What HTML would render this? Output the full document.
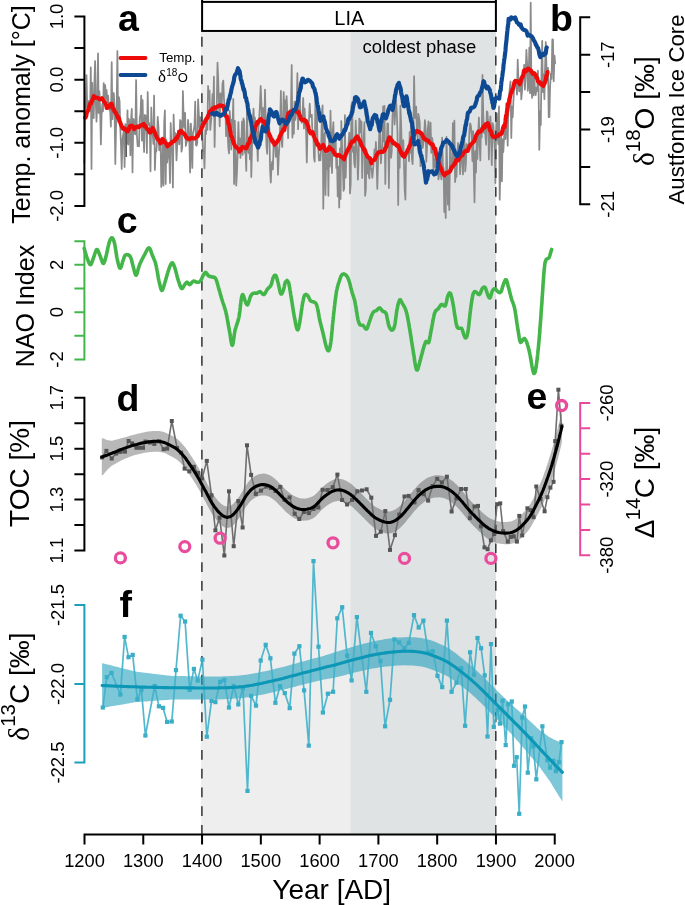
<!DOCTYPE html>
<html><head><meta charset="utf-8"><title>Figure</title>
<style>html,body{margin:0;padding:0;background:#fff}svg{display:block}text{fill:#000}</style>
</head><body>
<svg style="will-change:transform" width="685" height="905" viewBox="0 0 685 905"><rect width="685" height="905" fill="#fff"/><rect x="200.9" y="31" width="149.3" height="803" fill="#eeeeee"/><rect x="350.2" y="31" width="145.8" height="803" fill="#dfe3e4"/><polyline points="84.3,163.6 85.0,121.7 85.7,101.8 86.5,75.2 87.2,106.9 87.9,105.9 88.6,101.0 89.3,110.2 90.1,111.1 90.8,67.4 91.5,169.0 92.2,82.9 92.9,117.6 93.7,118.0 94.4,82.3 95.1,61.0 95.8,103.2 96.5,121.6 97.3,101.7 98.0,53.4 98.7,113.0 99.4,91.3 100.1,107.6 100.9,144.4 101.6,114.5 102.3,104.0 103.0,111.3 103.7,83.1 104.5,97.1 105.2,85.0 105.9,99.1 106.6,90.0 107.3,102.2 108.1,95.7 108.8,107.1 109.5,109.1 110.2,111.2 110.9,126.6 111.7,62.2 112.4,119.1 113.1,107.5 113.8,93.0 114.5,106.9 115.3,164.0 116.0,129.9 116.7,103.7 117.4,51.0 118.1,121.6 118.9,97.2 119.6,101.4 120.3,128.0 121.0,146.0 121.7,169.0 122.5,138.8 123.2,134.4 123.9,130.8 124.6,167.0 125.3,124.1 126.1,126.0 126.8,143.3 127.5,110.3 128.2,144.6 128.9,119.0 129.7,124.1 130.4,155.2 131.1,118.7 131.8,108.8 132.5,172.4 133.3,118.8 134.0,120.2 134.7,133.5 135.4,134.4 136.1,80.0 136.9,134.6 137.6,146.2 138.3,143.1 139.0,146.4 139.7,118.5 140.5,113.5 141.2,95.6 141.9,140.5 142.6,100.1 143.3,132.8 144.1,152.0 144.8,115.0 145.5,115.5 146.2,119.3 146.9,153.0 147.7,92.0 148.4,124.9 149.1,123.0 149.8,127.2 150.5,171.3 151.3,107.5 152.0,129.6 152.7,134.1 153.4,144.0 154.1,95.5 154.9,170.0 155.6,150.6 156.3,151.5 157.0,141.6 157.7,116.8 158.5,127.5 159.2,150.3 159.9,144.0 160.6,141.8 161.3,187.0 162.1,179.0 162.8,144.1 163.5,185.6 164.2,122.0 164.9,110.4 165.7,184.0 166.4,139.5 167.1,162.7 167.8,155.9 168.5,145.7 169.3,154.4 170.0,183.0 170.7,123.0 171.4,146.6 172.1,148.6 172.9,187.5 173.6,114.5 174.3,136.4 175.0,132.9 175.7,133.6 176.5,160.4 177.2,145.7 177.9,130.6 178.6,136.0 179.3,144.4 180.1,120.0 180.8,121.1 181.5,151.7 182.2,147.4 182.9,91.0 183.7,119.4 184.4,127.8 185.1,112.8 185.8,145.9 186.5,142.9 187.3,140.0 188.0,119.9 188.7,125.5 189.4,143.9 190.1,172.5 190.9,123.6 191.6,143.1 192.3,167.9 193.0,133.0 193.7,130.1 194.5,125.5 195.2,101.6 195.9,144.7 196.6,145.7 197.3,142.3 198.1,99.4 198.8,113.5 199.5,128.1 200.2,117.2 200.9,128.8 201.7,117.8 202.4,133.9 203.1,151.3 203.8,149.3 204.5,168.4 205.3,130.2 206.0,134.2 206.7,115.5 207.4,129.8 208.1,86.0 208.9,98.8 209.6,90.7 210.3,129.9 211.0,121.7 211.7,114.2 212.5,94.1 213.2,110.9 213.9,76.7 214.6,146.9 215.3,109.0 216.1,113.3 216.8,104.5 217.5,62.6 218.2,79.8 218.9,101.8 219.7,126.3 220.4,93.4 221.1,94.8 221.8,104.6 222.5,83.5 223.3,80.6 224.0,99.3 224.7,109.2 225.4,107.7 226.1,136.2 226.9,118.6 227.6,131.6 228.3,147.3 229.0,153.5 229.7,110.8 230.5,123.8 231.2,149.5 231.9,119.7 232.6,123.7 233.3,99.0 234.1,184.0 234.8,120.7 235.5,146.9 236.2,185.6 236.9,174.3 237.7,152.2 238.4,122.1 239.1,145.2 239.8,138.4 240.5,157.9 241.3,147.3 242.0,121.5 242.7,154.8 243.4,118.4 244.1,121.0 244.9,152.8 245.6,153.2 246.3,170.8 247.0,102.6 247.7,145.0 248.5,153.0 249.2,138.5 249.9,159.3 250.6,125.8 251.3,177.0 252.1,143.5 252.8,120.6 253.5,108.7 254.2,123.4 254.9,117.6 255.7,139.0 256.4,128.9 257.1,142.1 257.8,160.9 258.5,127.9 259.3,117.1 260.0,103.8 260.7,86.0 261.4,104.2 262.1,126.9 262.9,107.8 263.6,119.0 264.3,126.8 265.0,89.6 265.7,121.1 266.5,146.1 267.2,153.8 267.9,122.9 268.6,124.8 269.3,127.2 270.1,170.0 270.8,182.6 271.5,166.4 272.2,161.6 272.9,169.5 273.7,140.9 274.4,141.5 275.1,143.6 275.8,156.9 276.5,140.8 277.3,149.4 278.0,174.8 278.7,157.4 279.4,146.5 280.1,126.7 280.9,90.8 281.6,141.5 282.3,147.0 283.0,119.2 283.7,92.0 284.5,119.2 285.2,100.4 285.9,122.6 286.6,96.2 287.3,110.7 288.1,138.1 288.8,116.8 289.5,122.1 290.2,120.6 290.9,114.3 291.7,65.0 292.4,137.6 293.1,112.2 293.8,133.8 294.5,101.6 295.3,120.0 296.0,115.1 296.7,101.9 297.4,73.2 298.1,129.2 298.9,100.4 299.6,83.7 300.3,114.0 301.0,118.8 301.7,122.9 302.5,116.2 303.2,98.0 303.9,128.6 304.6,108.5 305.3,122.8 306.1,131.2 306.8,162.4 307.5,128.8 308.2,123.9 308.9,121.6 309.7,103.7 310.4,117.0 311.1,116.3 311.8,114.9 312.5,136.8 313.3,131.2 314.0,157.9 314.7,161.7 315.4,95.2 316.1,134.3 316.9,110.4 317.6,147.0 318.3,148.2 319.0,160.6 319.7,155.1 320.5,160.3 321.2,145.8 321.9,112.3 322.6,105.3 323.3,208.7 324.1,137.9 324.8,132.6 325.5,194.9 326.2,154.5 326.9,169.2 327.7,148.1 328.4,195.8 329.1,140.4 329.8,166.5 330.5,110.6 331.3,150.4 332.0,173.0 332.7,131.9 333.4,122.2 334.1,155.9 334.9,148.3 335.6,134.2 336.3,167.9 337.0,158.8 337.7,196.4 338.5,166.9 339.2,207.5 339.9,148.4 340.6,199.0 341.3,121.0 342.1,145.9 342.8,164.8 343.5,190.8 344.2,188.5 344.9,115.2 345.7,177.6 346.4,154.1 347.1,151.6 347.8,149.5 348.5,144.8 349.3,132.6 350.0,193.5 350.7,183.7 351.4,106.0 352.1,102.2 352.9,151.8 353.6,146.9 354.3,163.6 355.0,167.3 355.7,120.7 356.5,141.3 357.2,154.0 357.9,179.6 358.6,160.8 359.3,118.7 360.1,120.4 360.8,132.6 361.5,121.5 362.2,178.1 362.9,147.8 363.7,139.0 364.4,122.3 365.1,195.8 365.8,190.0 366.5,150.3 367.3,173.3 368.0,157.0 368.7,174.5 369.4,178.4 370.1,158.5 370.9,168.0 371.6,169.4 372.3,177.8 373.0,170.7 373.7,161.6 374.5,149.4 375.2,160.0 375.9,142.0 376.6,162.4 377.3,188.8 378.1,161.5 378.8,146.6 379.5,126.0 380.2,134.2 380.9,163.3 381.7,149.2 382.4,147.0 383.1,106.4 383.8,141.3 384.5,105.8 385.3,184.0 386.0,140.9 386.7,144.9 387.4,123.5 388.1,123.6 388.9,187.9 389.6,138.3 390.3,144.2 391.0,157.8 391.7,152.0 392.5,116.0 393.2,107.4 393.9,102.2 394.6,124.5 395.3,112.1 396.1,100.8 396.8,112.2 397.5,132.9 398.2,205.0 398.9,144.0 399.7,167.8 400.4,105.7 401.1,123.4 401.8,151.5 402.5,149.5 403.3,140.2 404.0,164.5 404.7,190.3 405.4,199.7 406.1,153.8 406.9,151.0 407.6,152.8 408.3,149.5 409.0,161.3 409.7,132.0 410.5,152.9 411.2,112.2 411.9,158.9 412.6,164.1 413.3,140.2 414.1,76.2 414.8,112.4 415.5,118.3 416.2,106.6 416.9,131.6 417.7,138.7 418.4,113.8 419.1,118.0 419.8,122.8 420.5,166.2 421.3,138.5 422.0,137.8 422.7,148.0 423.4,143.3 424.1,135.8 424.9,120.1 425.6,127.7 426.3,161.8 427.0,147.8 427.7,130.9 428.5,121.3 429.2,137.3 429.9,142.8 430.6,122.7 431.3,152.9 432.1,137.8 432.8,142.4 433.5,172.6 434.2,158.9 434.9,166.7 435.7,150.9 436.4,148.0 437.1,162.4 437.8,163.3 438.5,179.3 439.3,172.8 440.0,166.6 440.7,174.1 441.4,179.5 442.1,137.7 442.9,165.6 443.6,168.4 444.3,212.1 445.0,174.0 445.7,218.0 446.5,136.9 447.2,166.9 447.9,204.6 448.6,173.0 449.3,210.0 450.1,144.4 450.8,166.6 451.5,170.8 452.2,166.8 452.9,123.1 453.7,168.2 454.4,120.7 455.1,182.1 455.8,174.1 456.5,176.8 457.3,154.7 458.0,143.0 458.7,148.8 459.4,149.6 460.1,174.1 460.9,154.0 461.6,160.5 462.3,161.8 463.0,174.5 463.7,128.1 464.5,142.7 465.2,171.4 465.9,163.3 466.6,144.1 467.3,144.5 468.1,144.8 468.8,148.7 469.5,129.5 470.2,123.4 470.9,125.8 471.7,135.7 472.4,161.1 473.1,131.2 473.8,169.3 474.5,202.3 475.3,151.1 476.0,172.4 476.7,137.7 477.4,159.0 478.1,137.4 478.9,117.6 479.6,142.3 480.3,160.5 481.0,128.0 481.7,137.5 482.5,74.9 483.2,113.0 483.9,132.7 484.6,123.4 485.3,134.1 486.1,144.8 486.8,111.3 487.5,112.3 488.2,124.0 488.9,159.4 489.7,124.8 490.4,116.4 491.1,137.1 491.8,165.1 492.5,123.1 493.3,125.9 494.0,135.9 494.7,147.9 495.4,183.1 496.1,131.1 496.9,113.3 497.6,135.8 498.3,144.2 499.0,106.4 499.7,199.7 500.5,164.9 501.2,132.4 501.9,181.3 502.6,139.4 503.3,152.2 504.1,136.7 504.8,130.1 505.5,139.1 506.2,103.7 506.9,116.1 507.7,145.7 508.4,102.7 509.1,96.5 509.8,87.7 510.5,81.5 511.3,138.0 512.0,106.8 512.7,117.3 513.4,101.3 514.1,88.1 514.9,79.5 515.6,85.5 516.3,81.9 517.0,94.7 517.7,59.7 518.5,83.0 519.2,91.5 519.9,82.8 520.6,77.5 521.3,99.4 522.1,90.1 522.8,77.4 523.5,76.3 524.2,64.9 524.9,89.7 525.7,72.7 526.4,49.8 527.1,63.8 527.8,90.8 528.5,84.4 529.3,47.7 530.0,93.2 530.7,2.6 531.4,84.5 532.1,97.9 532.9,74.1 533.6,95.4 534.3,75.2 535.0,89.7 535.7,95.1 536.5,87.6 537.2,91.0 537.9,70.7 538.6,88.7 539.3,149.8 540.1,111.3 540.8,125.0 541.5,69.7 542.2,40.9 542.9,92.1 543.7,74.4 544.4,99.2 545.1,65.6 545.8,42.0 546.5,67.2 547.3,80.5 548.0,67.8 548.7,117.0 549.4,117.0 550.1,86.8 550.9,73.4 551.6,78.9 552.3,39.4 553.0,39.6 553.7,81.2 554.5,55.6 555.2,64.1" fill="none" stroke="#8a8a8a" stroke-width="1.75" stroke-linejoin="round"/><line x1="201.9" y1="36.85" x2="201.9" y2="834" stroke="#383838" stroke-width="1.55" stroke-dasharray="9.8 8.964"/><line x1="495.8" y1="36.85" x2="495.8" y2="834" stroke="#383838" stroke-width="1.55" stroke-dasharray="9.8 8.964"/><line x1="126.2" y1="131" x2="126.2" y2="157" stroke="#5a5a5a" stroke-width="1.6"/><rect x="202.1" y="1.9" width="293.8" height="29.05" fill="#fff" stroke="#000" stroke-width="2"/><path d="M202.1,0v2M495.9,0v2" stroke="#000" stroke-width="2"/><text x="349.3" y="24.9" font-size="20" text-anchor="middle" font-family="Liberation Sans, sans-serif">LIA</text><text x="419.3" y="52.7" font-size="18.45" text-anchor="middle" font-family="Liberation Sans, sans-serif">coldest phase</text><polyline points="85.1,117.6 85.6,117.6 86.2,116.0 86.7,113.0 87.2,112.0 87.7,110.9 88.2,109.9 88.6,108.4 89.0,107.5 89.4,106.0 89.8,104.0 90.2,104.1 90.6,103.6 91.0,103.5 91.6,101.7 92.4,99.9 93.1,98.3 93.9,96.1 94.9,97.8 96.0,97.6 97.2,97.7 98.4,98.1 99.6,99.3 100.8,98.9 101.9,98.2 102.6,98.9 103.4,100.8 104.1,101.7 104.8,102.3 105.5,103.5 106.2,105.4 106.8,108.0 107.5,107.5 108.2,107.7 109.3,106.5 110.4,104.2 111.5,103.7 112.1,104.9 112.6,107.8 113.2,109.0 113.8,109.0 114.4,111.3 115.0,112.3 115.5,112.3 116.1,113.7 116.7,115.0 117.3,116.0 117.9,117.8 118.5,117.5 119.2,119.3 119.9,121.8 120.6,123.6 121.3,125.4 122.1,126.9 122.8,128.5 123.5,127.8 124.2,129.4 124.9,128.6 125.6,129.6 126.3,129.6 127.0,131.3 127.6,131.4 128.1,129.7 128.7,129.9 129.3,127.5 129.9,126.3 130.7,126.0 131.9,125.6 133.0,126.9 134.1,129.1 135.3,127.2 136.5,127.4 137.7,126.4 138.8,127.1 139.9,126.1 141.0,125.4 142.1,124.7 143.0,124.5 143.8,124.0 144.6,126.4 145.4,126.0 146.2,127.4 147.0,129.0 147.9,129.2 148.7,130.5 149.5,132.5 150.5,132.5 151.5,130.9 152.6,128.0 153.3,128.9 153.9,130.5 154.5,132.0 155.1,133.0 155.7,135.2 156.3,136.1 156.9,137.6 157.7,139.4 158.6,139.5 159.5,140.4 160.4,143.3 161.2,142.7 161.9,140.0 162.6,138.9 163.3,139.6 164.0,141.6 164.7,142.3 165.3,142.7 166.0,143.2 166.7,145.0 167.4,146.3 168.3,145.5 169.2,144.6 170.2,143.5 171.2,143.4 172.1,141.9 173.1,141.5 174.0,141.2 174.9,140.4 175.8,138.4 176.7,138.7 177.5,136.6 178.1,135.8 178.8,134.0 179.5,131.6 180.1,131.3 180.8,130.8 181.7,131.5 182.5,132.8 183.4,133.2 184.3,133.8 185.1,135.0 186.2,137.5 187.3,138.5 188.3,138.3 189.4,139.3 190.7,138.4 191.9,137.8 193.2,138.4 194.2,138.5 195.2,138.1 196.0,137.5 196.6,137.0 197.1,136.3 197.7,136.3 198.3,134.3 198.9,133.7 199.5,132.7 200.0,131.2 200.6,130.6 201.2,129.5 201.8,127.3 202.4,127.0 203.0,124.6 203.6,123.7 204.3,122.7 204.9,122.0 205.6,120.2 206.2,119.2 206.9,118.1 207.5,117.8 208.1,115.8 208.7,114.8 209.2,113.5 209.8,111.4 210.4,112.8 211.1,111.2 212.2,108.9 213.2,109.5 214.3,107.6 215.3,107.3 216.5,107.6 217.8,106.4 219.0,105.8 220.3,105.3 221.4,106.2 222.4,105.8 223.5,106.2 224.0,108.0 224.4,110.6 224.9,112.3 225.3,114.7 225.7,115.8 226.1,116.0 226.5,116.9 226.9,116.4 227.3,117.5 227.6,118.6 227.9,120.8 228.2,123.0 228.6,123.8 228.9,124.7 229.2,125.1 229.5,126.9 229.8,128.8 230.1,130.6 230.4,131.2 230.8,134.3 231.1,136.0 231.5,136.5 231.9,136.9 232.3,137.9 232.6,139.3 233.0,140.5 233.4,142.1 234.0,143.7 234.8,145.5 235.5,146.9 236.3,147.1 237.0,148.0 237.8,148.4 238.5,148.9 239.3,151.6 240.1,149.7 240.9,150.1 241.6,148.0 242.4,146.8 243.3,147.2 244.4,147.5 245.5,148.2 246.5,148.1 247.0,146.4 247.5,145.2 248.0,143.6 248.6,143.9 249.1,142.3 249.6,142.3 250.1,138.3 250.7,137.6 251.2,137.1 251.7,135.7 252.1,135.4 252.6,134.4 253.1,132.6 253.6,131.6 254.1,132.4 254.6,130.4 255.0,128.7 255.5,126.7 256.1,125.4 256.7,123.1 257.2,122.1 257.8,123.1 258.4,122.2 259.0,120.8 259.6,119.9 260.1,119.5 260.9,119.0 261.8,120.7 262.8,121.3 263.7,121.4 264.3,123.2 264.7,121.6 265.2,122.5 265.7,124.2 266.2,124.8 266.6,126.2 267.1,127.2 267.6,128.2 268.1,132.0 268.5,133.1 269.1,133.7 269.6,135.6 270.2,136.0 270.7,137.6 271.2,138.6 271.8,140.7 272.3,140.0 272.9,141.8 273.4,142.8 274.0,142.9 274.5,144.8 275.3,142.8 276.0,143.2 276.8,142.2 277.5,141.3 278.3,139.8 279.0,139.1 279.8,136.1 280.4,135.4 281.0,133.8 281.5,133.2 282.0,132.0 282.6,131.4 283.1,129.4 283.6,129.9 284.2,130.0 284.7,127.7 285.1,125.9 285.6,124.6 286.0,124.0 286.4,123.7 286.8,120.6 287.2,118.7 287.6,116.7 288.0,115.0 288.5,113.0 289.4,113.3 290.3,111.8 291.2,112.7 292.2,112.4 293.1,110.3 294.3,109.9 295.6,110.2 296.8,112.0 297.9,111.8 298.5,111.9 299.0,113.6 299.6,115.4 300.2,116.1 300.8,118.9 301.6,119.6 302.8,120.1 304.0,119.5 304.9,120.3 305.5,121.4 306.0,120.9 306.5,123.1 307.1,123.2 307.6,125.2 308.1,125.7 308.7,129.2 309.2,130.5 309.9,132.0 310.7,133.4 311.5,132.8 312.3,132.1 313.1,133.6 314.0,136.0 314.5,137.3 315.1,139.1 315.6,140.8 316.1,140.3 316.7,141.9 317.2,144.7 317.8,144.8 318.3,144.2 318.8,145.7 319.4,147.0 319.9,148.8 321.0,147.5 322.1,147.2 323.2,144.9 324.1,147.0 325.0,149.4 326.0,151.0 326.9,150.0 328.1,150.0 329.3,147.1 330.5,148.1 331.4,149.4 332.4,149.8 333.3,151.5 334.2,152.7 335.1,154.5 336.2,155.1 337.2,155.9 338.2,154.9 339.3,155.2 340.4,156.1 341.7,157.2 342.9,157.8 344.1,159.3 344.6,157.0 345.1,155.7 345.6,154.8 346.1,153.4 346.6,152.6 347.1,150.9 347.6,150.9 348.2,149.1 348.8,148.7 349.3,147.1 349.9,146.8 350.5,143.9 351.1,143.3 351.8,141.7 352.8,141.2 353.9,141.4 354.9,139.3 356.0,137.6 357.1,136.5 357.8,138.1 358.4,138.0 359.0,140.0 359.6,140.5 360.2,141.4 360.8,143.1 361.4,145.1 362.0,146.0 362.6,147.1 363.2,148.6 363.7,149.8 364.3,149.0 364.9,150.8 365.5,152.8 366.6,154.8 367.7,157.0 368.8,157.6 369.4,158.1 369.8,158.1 370.3,159.4 370.8,161.3 371.3,163.3 372.0,161.2 372.8,160.3 373.7,159.9 374.5,160.0 375.3,158.4 376.1,156.4 376.9,154.7 377.7,153.5 378.5,152.2 379.4,152.1 380.2,151.9 381.2,151.5 382.5,152.0 383.8,151.1 384.6,150.4 385.1,148.6 385.7,147.4 386.2,147.2 386.7,145.6 387.3,142.7 387.8,141.7 388.4,140.3 388.9,138.4 389.5,137.3 390.0,137.6 390.8,140.1 391.7,140.2 392.5,141.9 393.4,143.4 394.2,142.8 395.1,143.8 396.0,144.7 396.9,145.8 397.8,145.4 398.7,146.5 399.6,148.7 400.3,150.7 401.0,152.8 401.6,152.8 402.3,155.0 402.9,155.9 403.6,155.2 404.2,156.9 404.8,155.2 405.4,154.4 406.0,153.0 406.6,152.7 407.2,151.4 407.8,149.6 408.3,149.1 408.9,147.8 409.4,146.0 409.9,145.7 410.5,143.8 411.0,141.9 411.5,140.4 412.0,138.3 412.5,137.3 413.0,138.1 413.5,135.9 414.1,134.9 414.6,132.9 415.1,131.6 415.7,132.1 416.2,131.4 417.1,130.9 418.1,131.7 419.0,131.9 420.0,132.4 420.9,133.0 421.7,133.8 422.6,135.7 423.4,137.4 424.2,138.8 425.0,139.5 425.8,139.4 426.9,140.4 428.1,140.5 429.2,142.2 430.4,143.3 431.4,144.4 432.1,144.9 432.7,144.5 433.4,146.9 434.1,148.9 434.8,148.5 435.3,150.0 435.7,152.3 436.0,152.4 436.3,155.2 436.7,155.7 437.0,155.9 437.4,158.5 437.7,159.7 438.0,160.2 438.4,162.2 438.7,161.6 439.1,164.8 439.6,165.0 440.1,166.5 440.6,167.4 441.2,169.0 441.7,170.8 442.2,171.0 442.8,172.9 443.3,173.6 443.8,174.2 444.4,175.4 445.3,174.1 446.2,172.9 447.1,173.3 448.0,172.3 448.9,172.3 449.9,171.4 450.8,169.3 451.7,167.0 452.6,166.2 453.2,165.9 453.9,165.1 454.5,163.5 455.2,163.5 455.9,160.9 456.6,159.3 457.4,159.1 458.2,160.3 459.0,159.1 459.9,156.9 460.7,156.4 461.5,155.8 462.4,155.3 463.3,153.6 464.2,151.9 465.2,151.2 466.1,150.7 467.0,150.9 467.8,151.0 468.6,148.4 469.4,146.6 470.2,145.4 471.0,144.2 471.9,143.7 472.6,142.9 473.3,141.8 474.0,141.5 474.7,139.8 475.4,137.6 476.2,135.4 476.9,134.1 477.7,132.9 478.6,131.3 479.6,131.9 480.5,131.6 481.4,130.5 482.3,129.2 483.1,127.3 483.9,126.3 484.7,127.5 485.4,124.5 486.2,124.2 487.0,124.1 487.7,123.2 488.2,124.1 488.6,126.0 489.1,126.2 489.5,128.1 489.9,130.4 490.4,130.3 490.8,130.9 491.3,132.5 491.8,134.6 492.8,136.3 493.8,137.1 494.8,136.8 495.8,136.4 496.9,136.2 498.1,136.0 499.2,134.4 500.4,134.2 501.4,133.9 501.8,133.5 502.2,131.1 502.6,130.5 503.0,128.2 503.4,126.9 503.8,125.9 504.2,126.1 504.6,127.2 504.9,124.9 505.2,123.1 505.4,122.0 505.6,118.9 505.8,118.2 506.0,115.7 506.3,116.0 506.5,115.5 506.7,113.9 506.9,111.4 507.1,111.4 507.4,109.7 507.6,108.1 507.8,107.0 508.0,104.0 508.3,103.4 508.7,103.0 509.0,101.7 509.3,100.3 509.6,98.0 509.9,97.5 510.2,96.3 510.5,94.9 510.9,93.1 511.2,92.7 511.5,92.2 511.9,90.8 512.2,89.8 512.6,89.1 513.1,88.4 513.5,86.4 514.0,84.3 514.4,82.5 514.9,81.2 515.9,80.9 517.0,81.2 517.7,81.5 518.4,82.6 519.2,82.8 519.8,84.3 520.3,82.5 520.7,81.5 521.2,79.6 521.7,78.3 522.2,76.8 522.5,77.2 522.9,75.9 523.3,74.2 523.7,72.1 524.0,70.6 524.5,70.2 525.8,71.3 527.0,69.4 528.3,68.6 529.3,69.4 530.1,70.2 530.9,70.3 531.7,72.1 532.8,73.8 534.0,73.1 535.2,74.2 535.9,76.3 536.6,78.0 537.3,78.4 537.9,81.3 538.6,82.0 539.3,81.8 540.1,83.5 541.0,83.1 541.8,85.0 542.6,84.7 543.3,85.9 543.8,84.1 544.2,84.0 544.7,83.0 545.1,81.8 545.5,80.2 545.9,79.6 546.2,76.4 546.6,75.7 546.9,74.8 547.2,73.9 547.5,72.0" fill="none" stroke="#ef0a0a" stroke-width="4.15" stroke-linejoin="round" stroke-linecap="round"/><polyline points="212.0,113.6 213.2,113.1 214.4,114.6 215.6,113.1 216.8,112.7 217.6,114.6 218.5,114.2 219.3,114.6 220.2,115.9 221.4,115.5 222.7,114.4 223.8,114.2 224.3,113.1 224.8,112.7 225.3,110.1 225.8,108.9 226.4,109.2 226.9,109.4 227.3,106.4 227.6,105.8 227.9,103.6 228.3,101.9 228.6,100.3 228.9,99.2 229.2,99.2 229.5,98.5 229.8,97.0 230.1,95.3 230.5,94.0 230.8,92.7 231.1,92.1 231.3,90.1 231.6,88.9 231.9,87.6 232.2,86.3 232.5,85.3 232.8,84.2 233.1,83.9 233.4,82.0 233.7,81.8 234.0,79.6 234.2,77.6 234.5,76.4 234.9,75.4 235.4,74.3 235.9,74.0 236.5,73.2 237.0,71.7 237.5,69.7 238.0,68.2 238.4,69.4 238.7,70.3 239.1,70.1 239.4,71.0 239.8,72.2 240.1,74.7 240.4,75.8 240.7,78.8 241.0,79.8 241.3,80.6 241.6,81.0 241.8,83.0 242.1,83.6 242.4,84.1 242.7,86.0 243.0,87.2 243.4,89.3 243.7,90.1 244.0,88.9 244.3,91.6 244.6,91.5 245.0,94.8 245.3,97.4 245.6,97.7 245.9,97.8 246.2,98.2 246.5,100.7 246.9,101.9 247.2,102.8 247.5,104.1 247.8,107.3 248.0,108.3 248.3,109.8 248.5,111.2 248.8,112.7 249.0,114.2 249.3,114.2 249.5,115.0 249.8,115.6 250.1,116.6 250.3,119.1 250.6,119.8 250.8,121.1 251.1,121.9 251.3,123.0 251.6,125.2 251.9,126.1 252.1,127.1 252.4,129.0 252.7,130.6 253.0,132.3 253.3,133.4 253.7,133.0 254.0,135.1 254.3,136.8 254.6,138.8 254.9,138.9 255.2,142.2 255.6,141.7 256.0,143.4 256.6,144.4 257.1,145.0 257.7,146.8 258.2,147.6 258.7,145.6 258.9,144.1 259.2,144.0 259.5,144.8 259.8,141.9 260.1,140.8 260.4,140.8 260.7,139.6 261.0,137.6 261.2,135.0 261.5,132.7 261.8,131.6 262.1,130.8 262.4,128.2 262.6,126.7 263.3,128.6 264.1,129.9 265.0,130.8 265.6,131.3 265.8,129.8 266.1,129.8 266.4,129.8 266.6,129.7 266.9,128.0 267.1,126.6 267.4,125.7 267.6,124.9 267.9,123.7 268.2,122.3 268.4,119.5 268.7,116.5 268.9,116.1 269.2,114.7 269.4,113.3 269.7,111.3 269.9,109.3 270.2,109.7 270.8,111.0 271.4,111.1 271.9,112.8 272.5,114.2 273.1,115.7 274.0,116.6 274.8,114.7 275.7,112.2 276.4,112.0 276.7,112.8 277.1,114.7 277.4,116.1 277.8,117.6 278.1,118.2 278.5,119.9 278.8,120.6 279.2,122.4 279.5,123.3 280.3,121.4 281.2,121.2 282.0,119.7 282.8,120.1 283.5,120.1 284.1,121.3 284.7,122.2 285.2,123.1 285.8,122.3 286.4,124.0 287.0,122.2 287.7,122.1 288.3,120.4 288.9,119.2 289.6,118.0 290.2,116.2 290.9,115.4 291.5,114.9 292.1,113.5 292.8,111.5 293.4,110.4 294.0,109.9 294.7,109.9 295.3,109.2 296.0,107.9 296.6,105.6 296.9,105.2 297.1,103.7 297.4,102.1 297.7,101.6 298.0,100.5 298.2,99.3 298.5,96.7 298.8,95.1 299.1,92.7 299.3,92.3 299.6,91.4 299.9,91.1 300.1,89.8 300.4,88.1 300.7,88.5 301.0,85.8 301.3,83.4 301.5,82.0 301.8,81.6 302.1,80.1 302.4,78.6 303.0,78.8 303.8,81.6 304.5,82.0 305.2,82.3 306.2,81.7 307.1,80.5 308.1,79.8 309.0,80.4 309.9,80.8 310.7,81.8 311.5,82.5 312.3,83.5 312.7,85.5 313.2,87.0 313.6,87.7 314.1,88.1 314.6,89.5 315.0,91.5 315.4,92.6 315.6,93.7 315.8,93.6 316.0,96.2 316.2,96.3 316.4,97.1 316.5,98.8 316.7,100.6 316.9,102.3 317.1,103.1 317.3,104.5 317.5,105.6 317.8,105.8 318.1,107.7 318.4,109.0 318.7,111.1 319.0,112.5 319.3,114.7 319.6,116.3 319.8,117.9 320.1,119.7 320.4,120.8 321.0,120.2 321.8,120.0 322.6,117.6 323.4,116.5 323.7,118.4 324.0,119.2 324.3,120.9 324.6,121.3 324.9,122.2 325.2,124.1 325.5,125.9 325.8,127.9 326.1,128.5 326.5,129.7 327.0,131.2 327.4,132.4 327.9,132.2 328.3,133.2 328.7,135.9 329.2,135.8 329.6,137.8 330.1,138.6 330.6,140.6 331.7,140.4 332.8,141.2 333.9,140.4 334.4,139.9 334.8,140.0 335.2,137.4 335.6,137.6 336.0,135.6 336.5,135.1 337.2,134.1 337.9,137.0 338.6,137.6 339.3,138.7 339.9,137.1 340.6,135.8 341.2,136.3 341.9,134.8 342.5,134.6 343.1,133.2 343.7,132.2 344.2,130.5 344.6,129.7 345.1,130.5 345.6,128.9 346.1,127.4 346.6,125.2 347.1,124.6 347.5,124.0 348.0,120.7 348.5,118.5 349.1,119.5 349.6,118.3 350.1,116.9 350.6,115.9 351.1,115.2 351.6,114.1 351.9,112.1 352.3,112.2 352.6,110.1 352.9,107.7 353.3,106.0 353.6,104.8 354.0,103.4 354.3,102.2 354.7,101.3 355.0,97.5 355.9,97.0 356.8,97.7 357.5,98.4 357.9,99.0 358.3,99.9 358.7,102.4 359.1,103.3 359.4,104.0 359.8,106.9 360.2,107.4 361.0,107.1 361.9,105.7 362.7,104.6 363.5,102.7 364.3,101.5 364.6,104.2 364.8,104.4 365.1,106.2 365.3,106.6 365.6,108.1 365.9,109.6 366.1,109.8 366.4,112.7 366.6,113.8 366.9,116.1 367.1,116.3 367.4,118.4 367.6,121.3 367.9,121.9 368.2,122.0 368.6,123.5 368.9,124.6 369.2,125.5 369.5,126.6 369.8,127.4 370.2,129.2 370.5,127.9 370.8,126.0 371.1,125.8 371.4,124.3 371.7,125.2 372.0,122.9 372.3,120.6 372.6,118.9 372.9,118.1 373.7,116.6 374.7,115.0 375.7,116.0 376.2,115.6 376.6,118.3 376.9,119.4 377.2,119.5 377.5,122.3 377.8,123.0 378.1,123.3 378.4,124.8 378.8,127.2 379.1,128.7 379.4,130.2 379.7,130.7 380.0,128.7 380.3,127.1 380.5,125.2 380.8,122.6 381.1,121.5 381.4,121.8 381.7,118.8 382.0,118.9 382.3,117.6 382.6,115.4 382.9,114.4 383.1,114.6 383.7,114.2 384.2,115.9 384.8,117.6 385.4,117.5 385.9,118.4 386.4,117.4 386.8,115.4 387.2,114.7 387.7,113.0 388.1,111.3 388.6,109.2 389.0,108.8 389.4,107.4 389.9,106.0 390.5,105.7 391.2,106.3 391.9,107.5 392.6,109.9 392.8,108.2 393.0,108.4 393.2,107.2 393.4,105.8 393.6,103.3 393.8,103.9 394.1,101.0 394.3,100.3 394.5,100.3 394.7,98.3 394.9,96.1 395.1,94.9 395.3,94.4 395.5,93.9 395.7,92.5 396.1,89.9 396.6,88.1 397.0,87.3 397.5,85.1 398.0,84.2 398.5,85.1 398.9,82.9 399.3,85.1 399.6,85.3 399.9,86.3 400.2,87.7 400.5,87.9 400.8,89.6 401.1,92.3 401.4,93.9 401.7,95.4 401.9,95.6 402.2,96.8 402.4,98.3 402.7,100.0 402.9,102.2 403.1,102.1 403.4,104.7 403.6,105.2 403.8,106.0 404.1,106.2 404.3,106.4 404.5,105.2 404.8,103.1 405.0,102.2 405.2,101.4 405.5,100.0 405.7,99.6 405.9,97.4 406.1,97.1 406.4,96.3 406.6,97.9 406.8,97.6 407.1,99.5 407.3,101.0 407.5,103.2 407.8,103.3 408.0,106.0 408.2,106.1 408.5,108.6 408.7,110.0 408.9,110.3 409.2,113.4 409.4,113.0 409.7,114.1 410.0,115.6 410.4,117.2 410.7,118.4 411.0,120.2 411.3,121.4 411.6,122.3 412.0,122.6 412.2,123.8 412.3,126.0 412.5,126.2 412.6,127.8 412.7,127.6 412.9,129.1 413.0,129.8 413.1,133.0 413.3,132.9 413.4,134.7 413.6,137.1 413.7,138.9 413.8,140.7 414.0,142.5 414.1,143.6 414.7,144.4 415.9,143.4 417.1,142.7 418.2,141.0 418.4,142.9 418.7,145.4 418.9,145.8 419.2,146.2 419.4,148.0 419.7,150.4 419.9,152.4 420.2,152.0 420.4,153.8 420.7,154.5 421.0,156.1 421.4,155.6 421.8,158.3 422.1,159.4 422.5,161.0 422.9,162.2 423.2,162.7 423.5,164.8 423.7,165.7 423.9,166.6 424.1,168.8 424.3,170.0 424.5,170.8 424.7,173.0 424.9,173.7 425.1,175.0 425.3,177.0 425.5,178.8 425.7,180.6 425.9,182.6 426.1,182.4 426.4,179.9 426.8,179.9 427.2,179.2 427.5,176.9 427.9,175.9 428.2,173.9 428.6,171.2 429.7,171.9 430.9,171.7 432.2,171.3 433.2,173.0 434.1,174.5 435.0,174.0 436.0,173.7 436.6,172.4 436.8,171.8 437.0,170.6 437.2,170.0 437.4,168.8 437.6,167.1 437.8,165.7 438.0,163.5 438.1,163.8 438.3,162.1 438.5,161.5 438.7,159.6 438.9,158.5 439.1,157.8 439.4,156.2 439.7,154.3 440.0,155.1 440.3,153.1 440.5,152.0 440.8,150.3 441.1,148.2 441.4,148.1 441.7,146.8 442.4,145.7 443.2,142.6 444.0,142.4 444.9,142.3 445.7,141.3 446.5,140.0 447.4,140.7 448.3,141.4 449.2,142.5 450.1,143.8 451.0,145.0 451.4,144.5 451.8,146.1 452.2,146.6 452.6,146.4 453.0,148.6 453.5,148.8 453.9,150.5 454.3,150.3 454.7,151.9 455.4,153.6 456.3,155.3 457.3,156.2 457.8,155.3 458.3,153.9 458.8,154.6 459.2,152.9 459.7,151.6 460.2,152.0 460.6,148.9 461.1,146.2 461.5,145.0 461.8,144.2 462.0,142.6 462.3,142.0 462.5,141.1 462.8,138.9 463.0,138.4 463.3,136.4 463.5,136.3 463.8,135.4 464.0,135.9 464.3,134.6 464.5,132.5 464.8,131.2 465.0,129.7 465.3,127.6 465.5,125.2 465.7,125.4 466.0,125.3 466.2,123.1 466.4,121.5 466.7,119.8 466.9,119.5 467.1,118.9 467.4,116.4 467.6,114.8 467.9,113.2 468.3,112.4 469.0,112.0 469.7,111.5 470.4,109.8 471.1,107.7 472.1,107.6 473.3,107.5 474.5,106.5 474.9,105.5 475.3,104.4 475.7,103.7 476.0,102.2 476.4,101.1 476.8,99.7 477.1,97.4 477.5,96.9 478.1,95.7 479.0,95.5 479.8,93.2 480.7,91.8 481.3,91.3 481.7,88.7 482.0,87.9 482.3,86.7 482.7,85.5 483.0,84.4 483.3,81.7 483.6,81.3 484.1,81.8 484.7,84.1 485.4,86.2 486.0,87.1 486.8,88.4 487.8,86.7 488.8,88.4 489.8,90.1 490.1,91.8 490.3,92.8 490.6,93.4 490.8,94.3 491.1,95.7 491.4,97.3 491.6,98.9 491.9,99.9 492.1,100.0 492.4,103.1 492.6,103.3 492.9,102.5 493.1,105.8 493.4,107.9 493.7,107.5 494.0,106.8 494.2,105.4 494.5,103.0 494.8,101.9 495.1,99.6 495.5,98.3 496.7,97.7 498.0,97.9 499.2,98.6 499.4,96.7 499.6,95.8 499.8,92.8 500.0,91.3 500.2,91.1 500.4,90.9 500.6,90.2 500.8,89.4 501.0,86.2 501.2,84.7 501.4,81.6 501.5,81.2 501.7,80.7 501.8,79.5 502.0,77.7 502.1,77.2 502.3,76.5 502.4,75.3 502.6,73.4 502.8,72.3 502.9,71.1 503.1,70.1 503.2,69.2 503.4,67.6 503.5,65.0 503.7,63.9 503.8,63.2 504.0,61.7 504.1,60.7 504.3,58.9 504.4,59.0 504.6,57.7 504.7,56.2 504.9,55.3 505.0,54.3 505.2,52.6 505.3,51.8 505.5,50.5 505.6,48.9 505.7,47.2 505.9,44.8 506.0,43.9 506.2,42.8 506.3,40.8 506.4,40.9 506.6,39.3 506.7,37.0 506.9,35.6 507.0,34.5 507.1,33.4 507.3,31.6 507.4,30.7 507.6,28.4 507.7,27.3 507.9,26.9 508.0,25.2 508.1,24.7 508.3,24.0 508.4,22.0 508.6,18.8 509.3,19.3 510.3,19.7 511.3,17.4 512.6,18.0 513.9,18.6 515.1,17.5 515.7,18.7 516.4,21.3 517.0,22.5 518.1,23.2 519.1,24.8 520.1,24.8 520.7,24.4 521.2,27.2 521.8,27.7 522.5,28.8 523.8,29.9 525.1,30.0 525.9,30.7 526.4,31.2 527.0,32.9 527.6,35.6 528.6,35.2 529.6,34.8 530.7,36.0 531.7,36.2 532.5,37.6 533.2,38.8 533.9,40.4 534.6,41.5 535.3,42.7 535.8,44.8 536.2,44.7 536.7,45.9 537.2,47.4 537.7,47.5 538.1,48.3 538.5,49.8 538.8,51.0 539.2,53.5 539.5,54.8 540.3,57.2 541.4,55.2 542.6,53.9 543.8,55.1 544.8,53.1 545.7,53.6 546.3,49.1 546.5,47.7 546.7,47.5" fill="none" stroke="#0e4a93" stroke-width="4.15" stroke-linejoin="round" stroke-linecap="round"/><line x1="120.5" y1="58" x2="145.5" y2="58" stroke="#ef0a0a" stroke-width="3.8" stroke-linecap="round"/><line x1="120.5" y1="75" x2="145.5" y2="75" stroke="#0e4a93" stroke-width="3.8" stroke-linecap="round"/><text x="159.3" y="61.5" font-size="13.3" font-family="Liberation Sans, sans-serif">Temp.</text><text x="158" y="81.7" font-size="13" font-family="Liberation Sans, sans-serif"><tspan font-family="Liberation Serif, serif" font-size="17">δ</tspan><tspan font-size="10" dx="0.3" dy="-5.5">18</tspan><tspan dx="0.3" dy="5.5">O</tspan></text><polyline points="84.2,248.4 84.4,249.1 84.7,250.1 85.0,251.3 85.4,252.6 85.8,254.0 86.2,255.3 86.6,256.6 87.0,257.7 87.5,259.2 88.1,260.7 88.7,262.2 89.3,263.5 89.9,264.4 90.5,264.7 91.0,264.4 91.5,263.4 92.0,262.1 92.5,260.6 93.0,259.1 93.5,257.7 94.0,256.5 94.4,255.0 94.9,253.5 95.4,252.1 95.9,250.9 96.3,249.9 96.8,249.5 97.4,249.7 98.0,250.7 98.6,252.2 99.3,253.9 99.9,255.4 100.4,256.6 100.9,258.0 101.4,259.6 101.9,261.0 102.4,262.3 102.9,263.2 103.4,263.5 103.8,263.2 104.2,262.5 104.6,261.4 105.0,260.1 105.4,258.5 105.8,257.0 106.2,255.4 106.5,254.4 106.7,253.2 107.0,252.0 107.3,250.7 107.6,249.4 107.8,248.1 108.1,246.8 108.4,245.6 108.7,244.4 108.9,243.4 109.2,242.5 109.9,240.5 110.6,239.0 111.3,238.0 112.0,237.8 112.5,238.1 113.0,238.9 113.6,240.1 114.1,241.7 114.6,243.7 114.8,244.6 115.0,245.7 115.2,246.9 115.4,248.2 115.7,249.6 115.9,251.0 116.1,252.4 116.3,253.8 116.5,255.2 116.7,256.6 117.0,257.8 117.2,259.0 117.4,260.0 117.8,261.7 118.2,263.4 118.6,264.9 119.0,266.3 119.4,267.3 119.8,268.0 120.2,268.2 120.6,267.9 121.1,267.0 121.5,265.7 121.9,264.2 122.4,262.6 122.8,261.2 123.2,260.0 123.8,258.3 124.3,256.8 124.9,255.6 125.6,254.9 126.6,254.6 127.9,254.7 129.1,255.3 130.2,256.5 130.6,257.3 131.0,258.3 131.4,259.4 131.7,260.7 132.0,262.0 132.3,263.3 132.7,264.7 133.0,265.9 133.3,267.0 133.7,268.5 134.1,270.1 134.5,271.7 134.9,273.1 135.3,274.3 135.7,275.0 136.1,275.2 136.5,274.8 136.8,274.1 137.2,273.0 137.5,271.8 137.9,270.3 138.3,268.8 138.7,267.3 139.2,265.9 139.6,264.7 140.1,263.5 140.7,262.2 141.2,261.0 141.8,259.9 142.4,258.7 143.0,257.6 143.6,256.5 144.2,255.4 144.9,254.1 145.6,252.7 146.3,251.3 147.0,250.0 147.6,248.9 148.3,248.2 148.9,247.9 149.6,248.3 150.2,249.2 150.7,250.6 151.3,252.2 151.8,253.9 152.4,255.4 152.8,256.4 153.3,257.4 153.7,258.4 154.2,259.5 154.6,260.6 155.1,261.8 155.5,263.2 155.9,264.7 156.2,265.7 156.4,266.9 156.6,268.1 156.9,269.5 157.1,270.8 157.4,272.2 157.6,273.6 157.8,275.0 158.1,276.3 158.3,277.7 158.5,278.9 158.8,280.1 159.0,281.1 159.4,282.7 159.7,284.3 160.1,285.8 160.4,287.2 160.8,288.4 161.1,289.4 161.5,290.1 161.8,290.4 162.3,290.3 162.7,289.5 163.1,288.4 163.6,286.9 164.1,285.2 164.6,283.4 164.9,282.5 165.2,281.4 165.6,280.2 165.9,279.0 166.3,277.7 166.7,276.4 167.0,275.1 167.4,273.8 167.8,272.5 168.1,271.4 168.5,270.3 168.8,269.4 169.4,267.7 170.0,266.2 170.6,264.8 171.2,263.7 171.8,263.1 172.3,262.8 172.8,263.1 173.3,263.9 173.8,265.0 174.3,266.4 174.8,267.9 175.3,269.4 175.6,270.4 175.9,271.5 176.2,272.7 176.5,273.9 176.8,275.1 177.1,276.4 177.4,277.6 177.8,278.8 178.1,279.9 178.6,281.3 179.1,282.9 179.6,284.4 180.1,285.8 180.6,287.0 181.1,287.9 181.6,288.5 182.4,288.4 183.2,287.2 184.0,285.8 184.7,284.6 185.9,283.0 187.0,282.2 187.9,282.9 188.8,284.1 189.8,284.6 190.6,284.0 191.5,282.9 192.4,281.8 193.3,281.1 194.5,281.2 195.6,281.8 196.8,282.2 198.0,282.2 199.2,281.9 200.3,281.1 200.9,280.2 201.6,278.9 202.2,277.6 202.7,276.3 203.3,275.2 204.1,273.8 204.9,272.8 205.7,272.4 206.6,273.2 207.5,274.7 208.5,275.9 209.6,276.4 210.8,276.6 212.0,276.9 213.2,277.1 214.4,277.3 215.5,278.3 215.9,279.1 216.3,280.1 216.7,281.3 217.1,282.5 217.5,283.9 217.9,285.4 218.3,286.9 218.6,287.9 218.9,289.0 219.2,290.1 219.6,291.2 219.9,292.4 220.2,293.6 220.6,294.9 220.9,296.1 221.3,297.3 221.6,298.5 222.0,299.7 222.4,300.8 222.7,302.0 223.1,303.1 223.5,304.1 223.8,305.2 224.2,306.3 224.6,307.5 224.9,308.7 225.3,309.9 225.7,311.2 226.0,312.6 226.2,313.7 226.5,314.8 226.7,316.0 227.0,317.3 227.2,318.6 227.5,319.9 227.7,321.2 227.9,322.5 228.2,323.9 228.4,325.2 228.6,326.5 228.9,327.8 229.1,329.0 229.3,330.2 229.5,331.3 229.8,332.9 230.1,334.5 230.3,336.2 230.6,338.0 230.8,339.6 231.1,341.2 231.3,342.6 231.6,343.7 231.8,344.6 232.0,345.1 232.3,345.3 232.5,345.0 232.8,344.4 233.0,343.5 233.2,342.3 233.4,340.9 233.6,339.4 233.9,337.7 234.1,336.1 234.3,334.4 234.6,332.8 234.8,331.4 235.1,330.1 235.4,328.9 235.8,327.7 236.1,326.6 236.5,325.5 236.8,324.4 237.2,323.3 237.6,322.2 237.9,321.1 238.3,319.9 238.6,318.6 238.9,317.3 239.1,316.2 239.3,314.9 239.5,313.6 239.7,312.3 239.9,310.9 240.0,309.4 240.2,308.0 240.3,306.6 240.5,305.3 240.6,304.0 240.8,302.7 240.9,301.6 241.1,300.6 241.2,299.7 241.6,297.3 242.0,295.7 242.4,294.8 242.8,294.6 243.2,295.2 243.7,296.4 244.2,298.0 244.7,299.6 245.2,300.9 245.9,302.9 246.7,304.6 247.5,304.9 247.9,304.3 248.3,303.2 248.8,301.8 249.3,300.2 249.7,298.6 250.2,297.3 250.6,296.2 251.5,294.7 252.4,293.8 253.4,293.2 255.1,293.1 256.9,293.2 258.4,292.2 259.9,291.6 260.8,292.2 261.9,293.3 262.9,294.3 263.9,294.6 264.6,294.0 265.3,293.0 266.0,291.7 266.7,290.3 267.4,289.2 268.3,288.2 269.2,287.4 270.1,286.5 270.9,285.3 271.4,284.2 271.8,282.8 272.1,281.4 272.5,279.9 272.8,278.6 273.2,277.6 274.4,275.5 275.6,275.2 276.0,275.8 276.3,276.7 276.7,277.8 277.1,279.2 277.5,280.7 277.9,282.2 278.2,283.2 278.5,284.5 278.8,285.8 279.1,287.3 279.4,288.7 279.7,290.1 280.0,291.4 280.3,292.5 280.6,293.3 280.9,293.9 281.7,294.0 282.5,292.5 283.3,290.4 283.6,289.4 283.9,288.1 284.3,286.6 284.6,285.1 284.9,283.7 285.2,282.6 285.6,281.8 287.0,280.5 288.4,282.2 288.6,282.9 288.9,283.8 289.1,284.9 289.3,286.0 289.6,287.3 289.8,288.7 290.0,290.1 290.3,291.5 290.5,293.0 290.7,294.5 291.0,296.0 291.2,297.4 291.4,298.6 291.6,299.8 291.8,301.0 292.0,302.3 292.2,303.6 292.4,304.9 292.6,306.2 292.8,307.5 293.0,308.8 293.2,310.1 293.4,311.4 293.6,312.6 293.8,313.8 294.0,315.0 294.2,316.1 294.5,317.6 294.8,319.1 295.1,320.7 295.4,322.2 295.6,323.7 295.9,325.1 296.2,326.4 296.5,327.5 296.8,328.4 297.0,329.1 297.3,329.6 297.8,329.8 298.3,329.0 298.7,327.5 299.1,325.5 299.6,323.1 299.8,322.2 300.0,321.1 300.1,320.0 300.3,318.7 300.5,317.4 300.7,316.0 300.9,314.6 301.1,313.2 301.3,311.8 301.5,310.4 301.7,309.0 301.9,307.7 302.0,306.5 302.2,305.4 302.4,304.4 302.7,302.5 303.1,300.8 303.4,299.2 303.7,297.9 304.0,296.8 304.3,295.8 304.7,295.1 306.1,294.4 307.6,295.5 308.2,296.3 308.8,297.5 309.4,298.8 310.0,300.0 310.6,300.9 311.8,301.5 313.0,301.7 314.1,302.1 315.1,302.7 316.0,303.5 316.9,305.6 317.1,306.5 317.4,307.5 317.6,308.6 317.9,309.8 318.1,311.2 318.4,312.5 318.6,314.0 318.9,315.4 319.1,316.8 319.4,318.2 319.6,319.5 319.9,320.8 320.2,322.0 320.5,323.2 320.8,324.4 321.1,325.6 321.4,326.8 321.7,328.0 322.0,329.2 322.3,330.3 322.6,331.5 322.9,332.6 323.1,333.7 323.4,334.8 323.7,336.1 324.0,337.4 324.3,338.7 324.6,340.0 324.9,341.3 325.1,342.5 325.4,343.6 325.7,344.7 325.9,345.6 326.2,346.5 326.8,348.4 327.4,349.9 328.0,350.7 328.6,350.7 328.9,350.2 329.3,349.5 329.6,348.6 329.9,347.3 330.2,345.8 330.6,343.9 330.9,341.8 331.0,340.9 331.1,340.0 331.3,338.9 331.4,337.9 331.5,336.7 331.6,335.6 331.7,334.3 331.8,333.1 331.9,331.8 332.1,330.5 332.2,329.2 332.3,327.8 332.4,326.5 332.5,325.1 332.7,323.7 332.8,322.4 332.9,321.0 333.1,319.7 333.2,318.4 333.3,317.2 333.5,316.0 333.6,314.7 333.7,313.4 333.9,312.1 334.0,310.8 334.2,309.5 334.3,308.1 334.5,306.8 334.6,305.5 334.8,304.2 334.9,302.8 335.1,301.6 335.2,300.3 335.4,299.1 335.6,297.9 335.7,296.7 335.9,295.7 336.0,294.6 336.2,293.6 336.3,292.7 336.6,290.8 337.0,289.1 337.3,287.6 337.7,286.3 338.0,285.1 338.3,284.1 338.6,283.1 339.0,282.1 339.3,281.1 339.9,279.3 340.4,277.8 340.9,276.4 341.5,275.3 342.1,274.5 343.8,273.9 345.6,274.8 346.4,275.6 347.2,276.6 347.9,278.0 348.7,279.9 349.0,280.8 349.3,281.8 349.7,283.0 350.0,284.2 350.3,285.4 350.6,286.7 350.9,288.0 351.3,289.2 351.6,290.4 351.9,291.6 352.2,292.8 352.6,293.9 352.9,294.9 353.3,296.0 353.6,297.0 354.0,298.1 354.3,299.3 354.7,300.6 355.0,302.1 355.2,303.2 355.4,304.3 355.7,305.6 355.9,306.9 356.1,308.3 356.3,309.7 356.5,311.2 356.8,312.6 357.0,314.0 357.2,315.3 357.4,316.5 357.6,317.7 357.8,318.7 358.0,319.6 358.6,321.9 359.2,323.4 359.7,324.3 360.3,325.0 361.6,325.3 363.1,325.4 363.9,326.4 364.8,327.7 365.7,328.9 366.6,329.0 367.1,328.4 367.5,327.5 367.9,326.3 368.4,324.9 368.8,323.5 369.3,322.1 369.7,320.8 370.2,319.6 370.6,318.3 371.1,317.0 371.5,315.7 372.0,314.5 372.5,313.5 373.0,312.6 374.2,311.4 375.5,310.9 376.7,310.3 377.7,309.3 378.5,308.3 379.5,307.9 380.3,308.4 381.2,309.4 382.1,310.5 383.0,311.4 384.5,311.8 386.0,313.3 386.3,314.1 386.6,315.2 386.8,316.4 387.1,317.8 387.4,319.2 387.7,320.6 388.0,322.0 388.2,323.3 388.5,324.4 388.8,325.4 389.5,327.3 390.3,328.8 391.1,329.7 391.8,330.1 392.7,329.9 393.6,328.8 394.5,326.2 394.7,325.4 394.9,324.4 395.1,323.3 395.3,322.0 395.4,320.7 395.6,319.4 395.8,318.0 396.0,316.6 396.2,315.2 396.4,313.8 396.5,312.5 396.7,311.2 396.9,310.1 397.1,309.1 397.5,307.3 397.8,305.5 398.2,303.9 398.6,302.5 399.0,301.4 399.3,300.5 399.7,299.9 400.5,299.9 401.3,301.3 402.3,303.3 402.8,304.2 403.4,305.1 404.0,306.2 404.6,307.3 405.2,308.6 405.8,310.1 406.3,311.7 406.6,312.7 406.8,313.7 407.1,314.7 407.3,315.8 407.5,317.0 407.8,318.2 408.0,319.4 408.2,320.7 408.5,322.0 408.7,323.3 408.9,324.7 409.2,326.1 409.4,327.5 409.6,328.6 409.8,329.8 410.0,330.9 410.2,332.2 410.4,333.4 410.6,334.7 410.8,336.0 411.0,337.3 411.2,338.6 411.4,339.9 411.6,341.2 411.8,342.5 412.0,343.7 412.2,345.0 412.4,346.2 412.6,347.4 412.8,348.5 413.0,349.9 413.2,351.3 413.4,352.7 413.6,354.0 413.9,355.4 414.1,356.8 414.3,358.1 414.4,359.4 414.6,360.6 414.8,361.8 415.0,362.8 415.2,363.9 415.3,364.8 415.5,365.6 416.1,368.5 416.7,370.0 417.3,370.0 417.6,369.5 418.0,368.7 418.3,367.5 418.7,366.2 419.1,364.7 419.5,363.2 419.9,361.6 420.2,360.6 420.5,359.4 420.8,358.2 421.1,356.9 421.5,355.6 421.8,354.3 422.2,353.0 422.5,351.8 422.8,350.6 423.1,349.5 423.4,348.5 423.9,346.9 424.3,345.4 424.8,344.1 425.2,342.9 425.6,342.0 426.0,341.4 427.3,342.4 428.6,342.7 428.9,342.0 429.1,341.1 429.4,340.1 429.6,338.9 429.8,337.5 430.1,336.1 430.4,334.6 430.6,333.1 430.9,331.6 431.2,330.1 431.4,329.0 431.7,327.8 431.9,326.5 432.1,325.2 432.4,323.8 432.6,322.4 432.9,321.0 433.1,319.7 433.4,318.4 433.7,317.1 433.9,315.9 434.2,314.8 434.4,313.8 434.7,313.0 435.6,311.0 436.5,310.0 437.4,309.4 438.3,308.6 439.2,307.4 440.0,306.1 440.8,305.0 441.7,304.3 442.9,304.8 444.1,306.0 445.2,305.9 445.6,305.2 445.9,304.0 446.2,302.7 446.6,301.2 446.9,299.6 447.2,298.2 447.5,296.9 447.8,295.9 448.7,294.0 449.5,292.9 450.4,293.3 450.7,293.8 451.0,294.6 451.2,295.5 451.5,296.6 451.8,297.8 452.1,299.1 452.4,300.6 452.7,302.2 453.0,303.8 453.2,304.8 453.4,305.9 453.6,307.1 453.8,308.4 454.0,309.8 454.2,311.2 454.4,312.6 454.6,314.0 454.8,315.4 455.1,316.8 455.3,318.1 455.5,319.4 455.7,320.6 455.8,321.7 456.0,322.7 456.2,323.5 456.8,325.9 457.2,327.1 457.7,327.8 458.3,328.3 459.9,328.2 461.5,328.3 462.0,329.1 462.4,330.3 462.9,331.7 463.3,333.1 463.7,334.4 464.1,335.4 465.0,337.6 465.9,338.0 466.3,337.5 466.7,336.8 467.1,335.6 467.5,333.9 468.0,331.4 468.1,330.5 468.3,329.6 468.4,328.5 468.5,327.4 468.7,326.2 468.8,324.9 469.0,323.6 469.1,322.2 469.3,320.8 469.4,319.4 469.6,318.0 469.7,316.6 469.9,315.3 470.0,313.9 470.2,312.6 470.3,311.4 470.5,310.2 470.6,309.1 470.8,307.6 471.0,306.2 471.2,304.7 471.4,303.3 471.6,301.9 471.8,300.5 472.1,299.2 472.3,298.0 472.5,296.9 472.7,295.8 472.9,294.9 473.1,294.0 473.3,293.3 474.6,291.5 475.9,292.0 477.0,292.9 478.2,294.3 479.3,294.6 479.9,294.0 480.4,292.9 481.0,291.6 481.5,290.2 482.0,288.9 482.5,288.1 483.8,287.0 485.1,287.5 485.5,288.3 486.0,289.4 486.4,290.8 486.9,292.2 487.3,293.5 487.7,294.6 488.4,296.4 489.1,297.8 489.8,298.0 490.2,297.3 490.7,296.2 491.1,294.7 491.6,293.1 492.0,291.7 492.5,290.7 493.8,289.1 495.1,288.8 496.1,289.6 497.2,291.0 498.2,292.0 499.6,292.7 500.9,292.0 501.3,291.1 501.8,289.8 502.2,288.3 502.6,286.8 503.1,285.3 503.5,284.1 504.1,282.5 504.8,280.9 505.4,279.8 506.1,279.7 506.5,280.2 506.8,281.1 507.2,282.3 507.6,283.7 507.9,285.2 508.3,286.7 508.7,288.1 509.0,289.2 509.3,290.3 509.6,291.5 509.9,292.7 510.2,293.9 510.5,295.1 510.8,296.3 511.1,297.5 511.4,298.6 511.8,299.8 512.2,300.8 512.6,301.8 513.0,302.8 513.3,303.8 513.7,305.0 514.1,306.3 514.5,307.8 514.7,308.8 514.9,309.8 515.1,310.9 515.3,312.1 515.5,313.3 515.7,314.6 515.9,315.9 516.1,317.2 516.3,318.5 516.4,319.8 516.6,321.1 516.8,322.4 517.0,323.6 517.2,324.8 517.4,326.1 517.6,327.4 517.8,328.8 518.0,330.2 518.3,331.6 518.5,333.0 518.7,334.3 518.9,335.6 519.1,336.8 519.3,338.0 519.5,339.0 519.6,339.9 519.8,340.6 520.6,342.4 521.4,341.9 522.2,340.9 523.1,339.3 524.0,338.5 524.8,338.8 525.7,339.9 526.6,341.9 526.9,342.7 527.2,343.7 527.5,344.7 527.9,345.9 528.2,347.1 528.5,348.4 528.9,349.7 529.2,351.0 529.5,352.4 529.8,353.7 530.0,354.8 530.3,356.1 530.5,357.4 530.7,358.7 531.0,360.0 531.2,361.4 531.4,362.7 531.6,363.9 531.8,365.2 532.0,366.3 532.2,367.3 532.4,368.2 532.9,370.5 533.3,372.2 533.7,373.3 534.2,373.5 534.5,373.1 534.9,372.5 535.2,371.4 535.5,370.0 535.9,368.1 536.3,365.6 536.4,364.7 536.5,363.8 536.7,362.9 536.8,361.8 536.9,360.8 537.1,359.6 537.2,358.5 537.3,357.3 537.5,356.0 537.6,354.7 537.8,353.4 537.9,352.1 538.0,350.7 538.2,349.3 538.3,347.9 538.5,346.5 538.6,345.0 538.7,343.5 538.9,342.1 539.0,340.6 539.1,339.5 539.2,338.4 539.3,337.3 539.4,336.2 539.5,335.1 539.6,333.9 539.7,332.8 539.8,331.6 539.8,330.4 539.9,329.2 540.0,327.9 540.1,326.7 540.2,325.5 540.3,324.2 540.4,323.0 540.5,321.7 540.6,320.4 540.7,319.2 540.8,317.9 540.9,316.6 541.0,315.3 541.0,314.1 541.1,312.8 541.2,311.5 541.3,310.2 541.4,308.9 541.5,307.7 541.6,306.4 541.7,305.2 541.8,304.0 541.9,302.7 542.0,301.4 542.0,300.1 542.1,298.8 542.2,297.5 542.3,296.1 542.4,294.7 542.5,293.4 542.6,292.0 542.7,290.6 542.8,289.3 542.9,287.9 542.9,286.5 543.0,285.2 543.1,283.9 543.2,282.6 543.3,281.3 543.4,280.0 543.5,278.8 543.6,277.6 543.6,276.5 543.7,275.4 543.8,274.3 543.9,273.3 544.0,272.3 544.0,271.4 544.1,270.5 544.2,269.7 544.5,267.1 544.7,265.1 544.9,263.6 545.1,262.5 545.4,261.7 545.6,261.0 545.8,260.4 546.1,259.7 547.4,258.6 548.9,257.8 549.3,256.9 549.8,255.6 550.2,254.2 550.6,252.8 551.0,251.4 551.4,250.2 551.6,249.4" fill="none" stroke="#43b649" stroke-width="3.6" stroke-linejoin="round" stroke-linecap="round"/><polygon points="101.8,438.6 102.6,438.3 103.8,438.6 105.2,439.3 106.8,440.0 108.4,440.3 110.1,440.6 111.7,440.8 113.1,440.4 114.5,440.1 116.0,439.7 117.4,439.3 118.9,438.9 120.4,438.5 121.9,438.1 123.4,437.8 124.9,437.3 126.3,436.9 127.8,436.4 129.2,436.0 130.6,435.6 132.1,435.2 133.5,434.8 135.0,434.5 136.7,434.0 138.4,433.6 140.1,433.2 141.8,432.8 143.5,432.4 145.1,432.1 146.7,431.8 148.4,431.6 150.1,431.3 151.7,431.2 153.2,431.0 154.7,430.9 156.1,430.9 158.0,430.9 159.8,431.1 161.4,431.4 163.1,431.8 164.5,432.2 165.9,432.8 167.2,433.4 168.6,434.0 170.0,434.7 171.4,435.4 172.8,436.1 174.2,436.9 175.6,437.8 177.0,438.8 178.2,439.8 179.3,440.8 180.5,442.0 181.7,443.2 182.8,444.5 184.0,445.9 184.9,447.0 185.8,448.1 186.6,449.3 187.5,450.6 188.4,451.8 189.2,453.1 190.1,454.4 191.0,455.7 191.9,457.1 192.8,458.4 193.6,459.7 194.5,461.1 195.4,462.5 196.2,463.9 197.1,465.3 198.0,466.8 198.8,468.2 199.6,469.5 200.3,470.9 201.1,472.4 201.9,473.8 202.7,475.2 203.4,476.7 204.2,478.1 205.0,479.6 205.8,481.0 206.6,482.5 207.3,484.0 208.1,485.5 208.9,487.0 209.7,488.4 210.4,489.8 211.2,491.2 212.0,492.4 213.0,494.0 214.0,495.5 215.1,496.9 216.1,498.3 217.1,499.5 218.1,500.7 219.0,501.7 220.6,503.2 222.2,504.5 223.6,505.4 224.9,506.1 226.7,506.6 228.4,506.4 229.8,506.0 231.3,505.3 233.1,503.9 234.0,503.0 234.9,502.0 236.0,500.7 237.0,499.4 238.0,498.0 239.1,496.7 240.0,495.3 240.9,493.9 241.7,492.5 242.6,491.0 243.4,489.5 244.2,488.0 245.0,486.6 245.8,485.4 246.8,484.0 247.8,482.7 248.8,481.5 249.7,480.3 250.7,479.3 251.7,478.3 253.2,477.2 254.6,476.2 256.0,475.5 257.5,474.8 259.0,474.3 260.4,473.9 261.9,473.7 263.4,473.6 265.3,473.8 267.3,474.2 269.2,475.0 270.6,475.7 272.1,476.6 273.5,477.7 275.0,478.8 276.2,479.9 277.4,481.0 278.5,482.2 279.7,483.4 280.9,484.6 282.1,485.8 283.2,487.0 284.4,488.2 285.5,489.4 286.7,490.5 288.2,491.7 289.7,493.0 291.1,494.1 292.6,495.0 294.1,495.9 295.5,496.6 297.0,497.2 298.4,497.7 300.2,498.2 301.9,498.4 303.6,498.5 305.3,498.4 307.1,498.2 308.9,497.7 310.3,497.3 311.7,496.8 313.2,496.0 314.7,495.0 315.8,494.0 317.0,492.8 318.2,491.5 319.4,490.2 320.6,488.9 321.7,487.8 323.2,486.4 324.7,485.2 326.1,484.1 327.5,483.1 329.0,482.1 330.4,481.2 331.9,480.4 333.4,479.8 335.3,479.2 337.3,478.9 339.2,478.8 341.1,479.0 343.1,479.5 345.0,480.2 346.5,480.9 348.0,481.7 349.4,482.7 350.9,483.7 352.1,484.6 353.2,485.7 354.4,486.7 355.5,487.8 356.7,488.9 357.9,490.1 359.1,491.2 360.2,492.4 361.4,493.6 362.6,494.8 363.8,496.0 364.9,497.2 366.1,498.4 367.2,499.5 368.4,500.6 369.6,501.8 370.7,502.9 371.9,504.0 373.0,505.0 374.2,505.9 375.7,506.9 377.2,507.8 378.7,508.6 380.1,509.2 381.7,510.0 383.2,510.5 384.7,510.9 386.2,511.3 387.8,511.5 389.3,511.4 390.9,511.2 392.4,510.7 394.0,510.0 395.6,509.2 397.1,508.2 398.7,507.0 399.8,506.1 401.0,505.0 402.1,503.8 403.4,502.5 404.3,501.4 405.3,500.3 406.2,499.1 407.2,497.9 408.2,496.6 409.2,495.5 410.2,494.3 411.1,493.1 412.1,491.9 413.1,490.7 414.0,489.6 415.0,488.5 416.2,487.2 417.4,485.9 418.5,484.8 419.7,483.6 420.9,482.6 422.4,481.3 423.8,480.2 425.2,479.2 426.7,478.3 428.2,477.5 429.6,476.9 431.1,476.4 432.6,476.0 434.5,475.6 436.5,475.3 438.4,475.3 440.3,475.4 442.3,475.7 444.2,476.2 445.6,476.7 447.1,477.4 448.6,478.3 450.0,479.2 451.4,480.2 452.9,481.3 454.3,482.5 455.8,483.9 457.0,485.0 458.2,486.3 459.3,487.6 460.5,488.9 461.7,490.3 462.7,491.4 463.6,492.6 464.6,493.8 465.6,495.0 466.5,496.1 467.5,497.3 468.7,498.6 469.9,499.9 471.0,501.2 472.2,502.5 473.4,503.7 474.6,504.9 475.7,506.1 476.9,507.2 478.0,508.4 479.2,509.5 480.4,510.6 481.5,511.7 482.7,512.8 483.8,513.8 485.0,514.8 486.5,515.9 488.0,516.9 489.4,517.9 490.9,518.7 492.4,519.4 493.8,520.0 495.2,520.6 496.7,521.0 498.7,521.5 500.6,521.8 502.6,521.9 504.5,522.0 506.5,522.0 508.4,521.8 510.3,521.4 512.3,520.9 514.2,520.1 515.7,519.3 517.1,518.3 518.6,517.2 520.1,515.9 521.3,514.8 522.5,513.6 523.7,512.3 524.9,511.0 525.9,509.8 527.0,508.5 528.0,507.3 528.9,506.1 530.0,504.4 530.7,503.3 531.4,502.1 532.1,500.8 532.9,499.4 533.7,497.9 534.5,496.2 535.4,494.4 536.0,493.2 536.6,491.8 537.2,490.5 537.9,489.0 538.5,487.6 539.2,486.1 539.8,484.5 540.5,483.0 541.2,481.3 541.8,479.7 542.5,478.0 543.1,476.5 543.6,475.0 544.2,473.4 544.7,471.8 545.3,470.2 545.9,468.5 546.4,466.8 547.0,465.2 547.5,463.5 548.1,461.9 548.6,460.2 549.1,458.6 549.6,457.1 550.1,455.5 550.6,453.9 551.1,452.3 551.5,450.8 552.0,449.3 552.4,447.8 552.8,446.3 553.3,444.8 553.7,443.3 554.1,441.9 554.5,440.4 554.9,438.9 555.3,437.3 555.8,435.7 556.2,434.0 556.6,432.4 557.1,430.7 557.5,429.1 557.9,427.5 558.3,426.0 558.6,424.5 559.0,423.1 559.3,421.8 559.8,419.8 560.2,417.8 560.7,415.9 561.1,414.2 561.4,412.7 561.7,411.5 561.9,410.5 561.9,442.3 561.7,443.3 561.4,444.5 561.1,445.9 560.7,447.6 560.2,449.4 559.8,451.3 559.3,453.2 559.0,454.5 558.6,455.9 558.3,457.3 557.9,458.8 557.5,460.3 557.1,461.8 556.6,463.4 556.2,465.0 555.8,466.6 555.3,468.1 554.9,469.7 554.5,471.1 554.1,472.5 553.7,473.9 553.3,475.3 552.8,476.7 552.4,478.2 552.0,479.6 551.5,481.1 551.1,482.5 550.6,484.0 550.1,485.5 549.6,486.9 549.1,488.3 548.6,489.7 548.1,491.1 547.5,492.5 547.0,494.0 546.4,495.4 545.9,496.9 545.3,498.3 544.7,499.7 544.2,501.1 543.6,502.5 543.1,503.8 542.5,505.0 541.8,506.4 541.2,507.8 540.5,509.2 539.8,510.5 539.2,511.8 538.5,513.0 537.9,514.2 537.2,515.3 536.6,516.5 536.0,517.5 535.4,518.6 534.5,520.2 533.7,521.8 532.9,523.2 532.1,524.6 531.4,525.9 530.7,527.1 530.0,528.2 528.9,529.7 528.0,530.9 527.0,532.0 525.9,533.2 524.9,534.4 523.7,535.6 522.5,536.8 521.3,538.0 520.1,539.1 518.6,540.2 517.1,541.3 515.7,542.2 514.2,542.9 512.3,543.6 510.3,544.0 508.4,544.2 506.5,544.3 504.5,544.3 502.6,544.1 500.6,543.8 498.7,543.5 496.7,543.0 495.2,542.6 493.8,542.0 492.4,541.4 490.9,540.7 489.4,539.9 488.0,538.9 486.5,537.9 485.0,536.8 483.8,535.8 482.7,534.8 481.5,533.7 480.4,532.6 479.2,531.5 478.0,530.4 476.9,529.3 475.7,528.1 474.6,526.9 473.4,525.7 472.2,524.5 471.0,523.2 469.9,521.9 468.7,520.6 467.5,519.3 466.5,518.2 465.6,517.0 464.6,515.8 463.6,514.6 462.7,513.5 461.7,512.3 460.5,511.0 459.3,509.6 458.2,508.3 457.0,507.1 455.8,505.9 454.3,504.6 452.9,503.4 451.4,502.2 450.0,501.2 448.6,500.3 447.1,499.5 445.6,498.8 444.2,498.2 442.3,497.7 440.3,497.4 438.4,497.3 436.5,497.4 434.5,497.6 432.6,498.0 431.1,498.5 429.6,499.0 428.2,499.6 426.7,500.3 425.2,501.2 423.8,502.3 422.4,503.4 420.9,504.6 419.7,505.7 418.5,506.8 417.4,508.0 416.2,509.3 415.0,510.5 414.0,511.6 413.1,512.8 412.1,514.0 411.1,515.2 410.2,516.4 409.2,517.5 408.2,518.7 407.2,520.0 406.2,521.2 405.3,522.4 404.3,523.5 403.4,524.5 402.1,525.9 401.0,527.1 399.8,528.2 398.7,529.2 397.1,530.3 395.6,531.3 394.0,532.2 392.4,532.8 390.9,533.3 389.3,533.6 387.8,533.6 386.2,533.4 384.7,533.1 383.2,532.6 381.7,532.1 380.1,531.4 378.7,530.7 377.2,529.9 375.7,529.1 374.2,528.1 373.0,527.1 371.9,526.1 370.7,525.0 369.6,523.9 368.4,522.8 367.2,521.6 366.1,520.5 364.9,519.3 363.8,518.1 362.6,517.0 361.4,515.8 360.2,514.6 359.1,513.4 357.9,512.2 356.7,511.1 355.5,510.0 354.4,508.9 353.2,507.8 352.1,506.8 350.9,505.9 349.4,504.8 348.0,503.9 346.5,503.1 345.0,502.4 343.1,501.7 341.1,501.2 339.2,501.0 337.3,501.1 335.3,501.4 333.4,502.0 331.9,502.6 330.4,503.4 329.0,504.3 327.5,505.3 326.1,506.3 324.7,507.4 323.2,508.6 321.7,510.0 320.6,511.1 319.4,512.4 318.2,513.7 317.0,515.0 315.8,516.2 314.7,517.2 313.2,518.2 311.7,518.9 310.3,519.5 308.9,519.9 307.1,520.4 305.3,520.6 303.6,520.7 301.9,520.6 300.2,520.4 298.4,519.9 297.0,519.4 295.5,518.8 294.1,518.0 292.6,517.2 291.1,516.2 289.7,515.0 288.2,513.8 286.7,512.5 285.5,511.4 284.4,510.3 283.2,509.0 282.1,507.8 280.9,506.6 279.7,505.4 278.5,504.2 277.4,503.0 276.2,501.8 275.0,500.8 273.5,499.6 272.1,498.5 270.6,497.6 269.2,496.8 267.3,496.1 265.3,495.6 263.4,495.4 261.9,495.5 260.4,495.7 259.0,496.1 257.5,496.6 256.0,497.2 254.6,498.0 253.2,498.9 251.7,500.1 250.7,501.0 249.7,502.0 248.8,503.1 247.8,504.4 246.8,505.7 245.8,507.0 245.0,508.3 244.2,509.7 243.4,511.1 242.6,512.6 241.7,514.1 240.9,515.5 240.0,516.9 239.1,518.2 238.0,519.6 237.0,521.0 236.0,522.3 234.9,523.5 234.0,524.6 233.1,525.5 231.3,526.8 229.8,527.5 228.4,527.8 226.7,528.1 224.9,527.5 223.6,526.8 222.2,525.9 220.6,524.6 219.0,523.1 218.1,522.1 217.1,520.9 216.1,519.6 215.1,518.3 214.0,516.8 213.0,515.3 212.0,513.8 211.2,512.5 210.4,511.1 209.7,509.7 208.9,508.3 208.1,506.8 207.3,505.3 206.6,503.8 205.8,502.3 205.0,500.8 204.2,499.4 203.4,497.9 202.7,496.5 201.9,495.0 201.1,493.6 200.3,492.1 199.6,490.7 198.8,489.3 198.0,488.0 197.1,486.5 196.2,485.1 195.4,483.6 194.5,482.2 193.6,480.9 192.8,479.5 191.9,478.2 191.0,476.9 190.1,475.5 189.2,474.2 188.4,472.9 187.5,471.6 186.6,470.4 185.8,469.2 184.9,468.0 184.0,466.9 182.8,465.5 181.7,464.2 180.5,463.0 179.3,461.8 178.2,460.8 177.0,459.8 175.6,458.8 174.2,457.9 172.8,457.1 171.4,456.4 170.0,455.7 168.6,455.0 167.2,454.3 165.9,453.6 164.5,453.1 163.1,452.6 161.4,452.2 159.8,451.9 158.0,451.8 156.1,451.7 154.7,451.7 153.2,451.8 151.7,451.9 150.1,452.1 148.4,452.3 146.7,452.6 145.1,452.8 143.5,453.1 141.8,453.5 140.1,453.8 138.4,454.2 136.7,454.7 135.0,455.1 133.5,455.6 132.1,456.1 130.6,456.6 129.2,457.1 127.8,457.7 126.3,458.2 124.9,458.8 123.4,459.4 121.9,460.2 120.4,461.0 118.9,461.8 117.4,462.6 116.0,463.4 114.5,464.3 113.1,465.0 111.7,465.8 110.1,467.3 108.4,468.8 106.8,470.4 105.2,472.3 103.8,474.0 102.6,475.2 101.8,475.6" fill="#000" fill-opacity="0.28"/><polyline points="102.1,457.4 106.4,450.9 111.7,458.5 116.2,453.5 120.4,451.9 125.0,451.6 128.6,441.0 132.1,443.4 136.4,447.8 139.8,447.8 143.0,447.8 145.5,441.6 150.0,442.5 154.3,443.9 159.0,441.3 163.6,449.2 167.2,448.6 171.8,421.0 177.1,448.0 181.1,452.7 184.6,468.6 189.3,471.4 193.9,466.8 198.0,473.0 202.1,478.4 206.8,460.9 211.5,495.3 215.4,530.3 219.6,517.7 224.3,555.5 229.0,491.3 233.7,546.2 238.3,501.1 242.6,527.5 247.0,445.3 251.1,474.9 255.8,493.9 261.0,490.6 266.3,486.6 270.9,488.0 275.5,491.0 280.3,486.9 284.4,499.7 289.6,497.4 294.7,513.7 299.3,519.0 303.8,512.0 308.9,513.1 313.5,509.0 318.4,507.5 322.6,489.8 327.5,490.1 332.8,487.2 337.4,474.6 342.1,500.0 347.1,504.5 352.0,500.0 357.3,491.3 362.0,490.5 366.6,489.3 371.3,497.7 376.0,535.9 380.8,531.7 385.3,511.1 390.0,549.9 394.9,535.1 399.3,514.6 404.5,496.5 408.6,495.9 414.5,502.4 418.5,490.1 423.8,494.2 428.1,500.6 432.6,486.0 437.2,478.8 441.9,482.5 446.9,476.7 451.6,511.5 456.4,498.4 461.1,489.0 465.8,489.0 469.9,518.2 474.5,506.5 478.0,505.9 480.9,526.4 484.5,547.4 487.6,549.2 490.9,540.4 494.1,534.0 497.1,504.2 500.2,503.4 503.1,531.1 507.8,541.6 510.7,536.9 513.7,536.3 516.9,541.6 519.3,515.9 522.2,535.4 527.4,508.3 530.4,510.1 533.6,517.2 536.3,486.5 540.5,499.0 544.6,511.3 547.4,497.2 550.4,487.6 553.5,481.8 555.2,441.1 558.4,389.7 561.4,425.7" fill="none" stroke="#6f6f6f" stroke-width="1.6" stroke-linejoin="round"/><rect x="100.1" y="455.4" width="4" height="4" fill="#555" /><rect x="104.4" y="448.9" width="4" height="4" fill="#555" /><rect x="109.7" y="456.5" width="4" height="4" fill="#555" /><rect x="114.2" y="451.5" width="4" height="4" fill="#555" /><rect x="118.4" y="449.9" width="4" height="4" fill="#555" /><rect x="123.0" y="449.6" width="4" height="4" fill="#555" /><rect x="126.6" y="439.0" width="4" height="4" fill="#555" /><rect x="130.1" y="441.4" width="4" height="4" fill="#555" /><rect x="134.4" y="445.8" width="4" height="4" fill="#555" /><rect x="137.8" y="445.8" width="4" height="4" fill="#555" /><rect x="141.0" y="445.8" width="4" height="4" fill="#555" /><rect x="143.5" y="439.6" width="4" height="4" fill="#555" /><rect x="148.0" y="440.5" width="4" height="4" fill="#555" /><rect x="152.3" y="441.9" width="4" height="4" fill="#555" /><rect x="157.0" y="439.3" width="4" height="4" fill="#555" /><rect x="161.6" y="447.2" width="4" height="4" fill="#555" /><rect x="165.2" y="446.6" width="4" height="4" fill="#555" /><rect x="169.8" y="419.0" width="4" height="4" fill="#555" /><rect x="175.1" y="446.0" width="4" height="4" fill="#555" /><rect x="179.1" y="450.7" width="4" height="4" fill="#555" /><rect x="182.6" y="466.6" width="4" height="4" fill="#555" /><rect x="187.3" y="469.4" width="4" height="4" fill="#555" /><rect x="191.9" y="464.8" width="4" height="4" fill="#555" /><rect x="196.0" y="471.0" width="4" height="4" fill="#555" /><rect x="200.1" y="476.4" width="4" height="4" fill="#555" /><rect x="204.8" y="458.9" width="4" height="4" fill="#555" /><rect x="209.5" y="493.3" width="4" height="4" fill="#555" /><rect x="213.4" y="528.3" width="4" height="4" fill="#555" /><rect x="217.6" y="515.7" width="4" height="4" fill="#555" /><rect x="222.3" y="553.5" width="4" height="4" fill="#555" /><rect x="227.0" y="489.3" width="4" height="4" fill="#555" /><rect x="231.7" y="544.2" width="4" height="4" fill="#555" /><rect x="236.3" y="499.1" width="4" height="4" fill="#555" /><rect x="240.6" y="525.5" width="4" height="4" fill="#555" /><rect x="245.0" y="443.3" width="4" height="4" fill="#555" /><rect x="249.1" y="472.9" width="4" height="4" fill="#555" /><rect x="253.8" y="491.9" width="4" height="4" fill="#555" /><rect x="259.0" y="488.6" width="4" height="4" fill="#555" /><rect x="264.3" y="484.6" width="4" height="4" fill="#555" /><rect x="268.9" y="486.0" width="4" height="4" fill="#555" /><rect x="273.5" y="489.0" width="4" height="4" fill="#555" /><rect x="278.3" y="484.9" width="4" height="4" fill="#555" /><rect x="282.4" y="497.7" width="4" height="4" fill="#555" /><rect x="287.6" y="495.4" width="4" height="4" fill="#555" /><rect x="292.7" y="511.7" width="4" height="4" fill="#555" /><rect x="297.3" y="517.0" width="4" height="4" fill="#555" /><rect x="301.8" y="510.0" width="4" height="4" fill="#555" /><rect x="306.9" y="511.1" width="4" height="4" fill="#555" /><rect x="311.5" y="507.0" width="4" height="4" fill="#555" /><rect x="316.4" y="505.5" width="4" height="4" fill="#555" /><rect x="320.6" y="487.8" width="4" height="4" fill="#555" /><rect x="325.5" y="488.1" width="4" height="4" fill="#555" /><rect x="330.8" y="485.2" width="4" height="4" fill="#555" /><rect x="335.4" y="472.6" width="4" height="4" fill="#555" /><rect x="340.1" y="498.0" width="4" height="4" fill="#555" /><rect x="345.1" y="502.5" width="4" height="4" fill="#555" /><rect x="350.0" y="498.0" width="4" height="4" fill="#555" /><rect x="355.3" y="489.3" width="4" height="4" fill="#555" /><rect x="360.0" y="488.5" width="4" height="4" fill="#555" /><rect x="364.6" y="487.3" width="4" height="4" fill="#555" /><rect x="369.3" y="495.7" width="4" height="4" fill="#555" /><rect x="374.0" y="533.9" width="4" height="4" fill="#555" /><rect x="378.8" y="529.7" width="4" height="4" fill="#555" /><rect x="383.3" y="509.1" width="4" height="4" fill="#555" /><rect x="388.0" y="547.9" width="4" height="4" fill="#555" /><rect x="392.9" y="533.1" width="4" height="4" fill="#555" /><rect x="397.3" y="512.6" width="4" height="4" fill="#555" /><rect x="402.5" y="494.5" width="4" height="4" fill="#555" /><rect x="406.6" y="493.9" width="4" height="4" fill="#555" /><rect x="412.5" y="500.4" width="4" height="4" fill="#555" /><rect x="416.5" y="488.1" width="4" height="4" fill="#555" /><rect x="421.8" y="492.2" width="4" height="4" fill="#555" /><rect x="426.1" y="498.6" width="4" height="4" fill="#555" /><rect x="430.6" y="484.0" width="4" height="4" fill="#555" /><rect x="435.2" y="476.8" width="4" height="4" fill="#555" /><rect x="439.9" y="480.5" width="4" height="4" fill="#555" /><rect x="444.9" y="474.7" width="4" height="4" fill="#555" /><rect x="449.6" y="509.5" width="4" height="4" fill="#555" /><rect x="454.4" y="496.4" width="4" height="4" fill="#555" /><rect x="459.1" y="487.0" width="4" height="4" fill="#555" /><rect x="463.8" y="487.0" width="4" height="4" fill="#555" /><rect x="467.9" y="516.2" width="4" height="4" fill="#555" /><rect x="472.5" y="504.5" width="4" height="4" fill="#555" /><rect x="476.0" y="503.9" width="4" height="4" fill="#555" /><rect x="478.9" y="524.4" width="4" height="4" fill="#555" /><rect x="482.5" y="545.4" width="4" height="4" fill="#555" /><rect x="485.6" y="547.2" width="4" height="4" fill="#555" /><rect x="488.9" y="538.4" width="4" height="4" fill="#555" /><rect x="492.1" y="532.0" width="4" height="4" fill="#555" /><rect x="495.1" y="502.2" width="4" height="4" fill="#555" /><rect x="498.2" y="501.4" width="4" height="4" fill="#555" /><rect x="501.1" y="529.1" width="4" height="4" fill="#555" /><rect x="505.8" y="539.6" width="4" height="4" fill="#555" /><rect x="508.7" y="534.9" width="4" height="4" fill="#555" /><rect x="511.7" y="534.3" width="4" height="4" fill="#555" /><rect x="514.9" y="539.6" width="4" height="4" fill="#555" /><rect x="517.3" y="513.9" width="4" height="4" fill="#555" /><rect x="520.2" y="533.4" width="4" height="4" fill="#555" /><rect x="525.4" y="506.3" width="4" height="4" fill="#555" /><rect x="528.4" y="508.1" width="4" height="4" fill="#555" /><rect x="531.6" y="515.2" width="4" height="4" fill="#555" /><rect x="534.3" y="484.5" width="4" height="4" fill="#555" /><rect x="538.5" y="497.0" width="4" height="4" fill="#555" /><rect x="542.6" y="509.3" width="4" height="4" fill="#555" /><rect x="545.4" y="495.2" width="4" height="4" fill="#555" /><rect x="548.4" y="485.6" width="4" height="4" fill="#555" /><rect x="551.5" y="479.8" width="4" height="4" fill="#555" /><rect x="553.2" y="439.1" width="4" height="4" fill="#555" /><rect x="556.4" y="387.7" width="4" height="4" fill="#555" /><rect x="559.4" y="423.7" width="4" height="4" fill="#555" /><polyline points="101.8,457.1 102.6,456.8 103.8,456.3 105.2,455.8 106.8,455.2 108.4,454.6 110.1,453.9 111.7,453.3 113.1,452.7 114.5,452.2 116.0,451.6 117.4,451.0 118.9,450.3 120.4,449.7 121.9,449.2 123.4,448.6 124.9,448.1 126.3,447.6 127.8,447.1 129.2,446.6 130.6,446.1 132.1,445.6 133.5,445.2 135.0,444.8 136.7,444.4 138.4,443.9 140.1,443.5 141.8,443.1 143.5,442.8 145.1,442.5 146.7,442.2 148.4,441.9 150.1,441.7 151.7,441.5 153.2,441.4 154.7,441.3 156.1,441.3 158.0,441.3 159.8,441.5 161.4,441.8 163.1,442.2 164.5,442.6 165.9,443.2 167.2,443.8 168.6,444.5 170.0,445.2 171.4,445.9 172.8,446.6 174.2,447.4 175.6,448.3 177.0,449.3 178.2,450.3 179.3,451.3 180.5,452.5 181.7,453.7 182.8,455.0 184.0,456.4 184.9,457.5 185.8,458.6 186.6,459.9 187.5,461.1 188.4,462.4 189.2,463.7 190.1,465.0 191.0,466.3 191.9,467.6 192.8,469.0 193.6,470.3 194.5,471.7 195.4,473.1 196.2,474.5 197.1,475.9 198.0,477.4 198.8,478.7 199.6,480.1 200.3,481.5 201.1,483.0 201.9,484.4 202.7,485.9 203.4,487.3 204.2,488.8 205.0,490.2 205.8,491.6 206.6,493.1 207.3,494.6 208.1,496.1 208.9,497.6 209.7,499.1 210.4,500.5 211.2,501.8 212.0,503.1 213.0,504.7 214.0,506.2 215.1,507.6 216.1,508.9 217.1,510.2 218.1,511.4 219.0,512.4 220.6,513.9 222.2,515.2 223.6,516.1 224.9,516.8 226.7,517.4 228.4,517.1 229.8,516.7 231.3,516.1 233.1,514.7 234.0,513.8 234.9,512.7 236.0,511.5 237.0,510.2 238.0,508.8 239.1,507.5 240.0,506.1 240.9,504.7 241.7,503.3 242.6,501.8 243.4,500.3 244.2,498.9 245.0,497.5 245.8,496.2 246.8,494.8 247.8,493.5 248.8,492.3 249.7,491.2 250.7,490.1 251.7,489.2 253.2,488.0 254.6,487.1 256.0,486.3 257.5,485.7 259.0,485.2 260.4,484.8 261.9,484.6 263.4,484.5 265.3,484.7 267.3,485.2 269.2,485.9 270.6,486.7 272.1,487.6 273.5,488.6 275.0,489.8 276.2,490.8 277.4,492.0 278.5,493.2 279.7,494.4 280.9,495.6 282.1,496.8 283.2,498.0 284.4,499.2 285.5,500.4 286.7,501.5 288.2,502.8 289.7,504.0 291.1,505.1 292.6,506.1 294.1,507.0 295.5,507.7 297.0,508.3 298.4,508.8 300.2,509.3 301.9,509.5 303.6,509.6 305.3,509.5 307.1,509.3 308.9,508.8 310.3,508.4 311.7,507.9 313.2,507.1 314.7,506.1 315.8,505.1 317.0,503.9 318.2,502.6 319.4,501.3 320.6,500.0 321.7,498.9 323.2,497.5 324.7,496.3 326.1,495.2 327.5,494.2 329.0,493.2 330.4,492.3 331.9,491.5 333.4,490.9 335.3,490.3 337.3,490.0 339.2,489.9 341.1,490.1 343.1,490.6 345.0,491.3 346.5,492.0 348.0,492.8 349.4,493.8 350.9,494.8 352.1,495.7 353.2,496.7 354.4,497.8 355.5,498.9 356.7,500.0 357.9,501.1 359.1,502.3 360.2,503.5 361.4,504.7 362.6,505.9 363.8,507.1 364.9,508.3 366.1,509.4 367.2,510.6 368.4,511.7 369.6,512.8 370.7,514.0 371.9,515.0 373.0,516.1 374.2,517.0 375.7,518.0 377.2,518.9 378.7,519.6 380.1,520.3 381.7,521.0 383.2,521.6 384.7,522.0 386.2,522.3 387.8,522.5 389.3,522.5 390.9,522.2 392.4,521.8 394.0,521.1 395.6,520.3 397.1,519.3 398.7,518.1 399.8,517.1 401.0,516.1 402.1,514.9 403.4,513.5 404.3,512.5 405.3,511.3 406.2,510.1 407.2,508.9 408.2,507.7 409.2,506.5 410.2,505.3 411.1,504.1 412.1,502.9 413.1,501.8 414.0,500.6 415.0,499.5 416.2,498.2 417.4,497.0 418.5,495.8 419.7,494.7 420.9,493.6 422.4,492.4 423.8,491.2 425.2,490.2 426.7,489.3 428.2,488.5 429.6,487.9 431.1,487.4 432.6,487.0 434.5,486.6 436.5,486.4 438.4,486.3 440.3,486.4 442.3,486.7 444.2,487.2 445.6,487.8 447.1,488.5 448.6,489.3 450.0,490.2 451.4,491.2 452.9,492.3 454.3,493.6 455.8,494.9 457.0,496.1 458.2,497.3 459.3,498.6 460.5,500.0 461.7,501.3 462.7,502.4 463.6,503.6 464.6,504.8 465.6,506.0 466.5,507.2 467.5,508.3 468.7,509.6 469.9,510.9 471.0,512.2 472.2,513.5 473.4,514.7 474.6,515.9 475.7,517.1 476.9,518.2 478.0,519.4 479.2,520.5 480.4,521.6 481.5,522.7 482.7,523.8 483.8,524.8 485.0,525.8 486.5,526.9 488.0,527.9 489.4,528.9 490.9,529.7 492.4,530.4 493.8,531.0 495.2,531.6 496.7,532.0 498.7,532.5 500.6,532.8 502.6,533.0 504.5,533.1 506.5,533.1 508.4,533.0 510.3,532.7 512.3,532.2 514.2,531.5 515.7,530.7 517.1,529.8 518.6,528.7 520.1,527.5 521.3,526.4 522.5,525.2 523.7,523.9 524.9,522.7 525.9,521.5 527.0,520.3 528.0,519.1 528.9,517.9 530.0,516.3 530.7,515.2 531.4,514.0 532.1,512.7 532.9,511.3 533.7,509.8 534.5,508.2 535.4,506.5 536.0,505.3 536.6,504.2 537.2,502.9 537.9,501.6 538.5,500.3 539.2,498.9 539.8,497.5 540.5,496.1 541.2,494.6 541.8,493.1 542.5,491.5 543.1,490.1 543.6,488.7 544.2,487.3 544.7,485.8 545.3,484.2 545.9,482.7 546.4,481.1 547.0,479.6 547.5,478.0 548.1,476.5 548.6,474.9 549.1,473.5 549.6,472.0 550.1,470.5 550.6,468.9 551.1,467.4 551.5,465.9 552.0,464.5 552.4,463.0 552.8,461.5 553.3,460.1 553.7,458.6 554.1,457.2 554.5,455.7 554.9,454.3 555.3,452.7 555.8,451.1 556.2,449.5 556.6,447.9 557.1,446.3 557.5,444.7 557.9,443.2 558.3,441.6 558.6,440.2 559.0,438.8 559.3,437.5 559.8,435.5 560.2,433.6 560.7,431.8 561.1,430.1 561.4,428.6 561.7,427.4 561.9,426.4" fill="none" stroke="#000" stroke-width="3.1" stroke-linejoin="round" stroke-linecap="round"/><circle cx="120.4" cy="557.9" r="5.0" fill="none" stroke="#ea4c9c" stroke-width="3.3"/><circle cx="184.8" cy="546.6" r="5.0" fill="none" stroke="#ea4c9c" stroke-width="3.3"/><circle cx="220.1" cy="538.2" r="5.0" fill="none" stroke="#ea4c9c" stroke-width="3.3"/><circle cx="333" cy="542.8" r="5.0" fill="none" stroke="#ea4c9c" stroke-width="3.3"/><circle cx="404.5" cy="558.4" r="5.0" fill="none" stroke="#ea4c9c" stroke-width="3.3"/><circle cx="490.9" cy="558.4" r="5.0" fill="none" stroke="#ea4c9c" stroke-width="3.3"/><circle cx="561.6" cy="405.5" r="5.0" fill="none" stroke="#ea4c9c" stroke-width="3.3"/><polygon points="102.1,663.2 103.5,663.5 105.3,663.9 107.6,664.5 110.0,665.1 112.6,665.8 115.2,666.5 117.7,667.1 120.0,667.7 122.1,668.2 124.2,668.8 126.3,669.3 128.3,669.8 130.4,670.3 132.4,670.8 134.5,671.3 136.7,671.8 138.7,672.0 140.7,672.3 142.7,672.5 144.8,672.8 146.9,673.0 149.0,673.3 151.0,673.5 153.0,673.8 155.0,674.0 157.2,674.2 159.3,674.5 161.3,674.7 163.4,675.0 165.5,675.2 167.5,675.4 169.6,675.6 171.8,675.9 173.8,675.9 175.9,676.0 178.0,676.0 180.1,676.1 182.3,676.1 184.3,676.1 186.3,676.2 188.2,676.2 190.0,676.2 192.4,676.3 194.5,676.3 196.4,676.3 198.2,676.4 200.1,676.4 202.1,676.4 204.2,676.4 206.2,676.5 208.2,676.5 210.3,676.5 212.6,676.5 215.0,676.5 217.0,676.5 219.2,676.4 221.4,676.4 223.7,676.3 226.1,676.3 228.3,676.2 230.5,676.1 232.5,676.0 235.0,675.8 237.2,675.7 239.4,675.5 241.5,675.3 243.6,675.1 245.7,674.8 247.9,674.5 250.1,674.1 252.3,673.8 254.4,673.3 256.6,672.9 258.8,672.5 261.0,672.1 263.2,671.6 265.3,671.2 267.5,670.7 269.7,670.2 271.9,669.7 274.1,669.2 276.3,668.6 278.5,668.1 280.7,667.5 282.9,667.0 285.1,666.4 287.3,665.8 289.5,665.2 291.6,664.6 293.8,664.0 296.0,663.4 298.2,662.8 300.4,662.1 302.6,661.5 304.9,660.9 307.1,660.3 309.3,659.7 311.4,659.1 313.5,658.6 315.6,658.0 317.6,657.5 319.6,656.9 321.6,656.4 323.6,655.9 325.9,655.1 328.1,654.4 330.4,653.7 332.6,653.0 335.0,652.2 337.1,651.6 339.2,650.9 341.4,650.2 343.7,649.6 345.9,648.9 348.1,648.2 350.3,647.5 352.5,646.9 354.7,646.3 356.9,645.6 359.1,645.0 361.3,644.4 363.5,643.8 365.7,643.2 367.9,642.7 370.0,642.2 372.2,641.6 374.4,641.2 376.6,640.7 378.8,640.3 381.0,639.9 383.2,639.5 385.4,639.1 387.6,638.8 389.8,638.5 392.1,638.2 394.4,638.0 396.6,637.7 398.7,637.5 400.7,637.4 403.4,637.2 405.8,637.2 408.0,637.1 410.3,637.2 412.6,637.2 414.8,637.3 416.9,637.5 419.1,637.7 421.3,638.0 423.5,638.4 425.7,638.9 427.9,639.4 430.1,640.1 432.2,640.8 434.4,641.6 436.6,642.5 438.8,643.4 441.1,644.4 443.3,645.4 445.4,646.4 447.3,647.5 449.0,648.6 450.7,649.8 452.5,651.0 454.3,652.3 456.1,653.6 457.9,655.0 460.0,656.7 461.5,657.9 463.1,659.1 464.8,660.5 466.5,661.9 468.2,663.4 469.9,664.8 471.6,666.2 473.2,667.6 474.9,669.1 476.6,670.6 478.2,672.1 479.9,673.7 481.3,675.0 482.7,676.4 484.1,677.8 485.6,679.2 487.0,680.6 488.4,682.0 489.8,683.4 491.2,684.8 492.7,686.2 494.1,687.6 495.5,689.0 496.9,690.4 498.4,691.9 499.8,693.3 501.2,694.7 502.6,696.0 504.0,697.4 505.5,698.8 506.9,700.2 508.3,701.6 509.7,703.0 511.1,704.3 512.6,705.5 514.0,706.7 515.4,708.0 516.8,709.2 518.3,710.5 519.7,711.7 521.1,713.0 522.5,714.3 523.9,715.6 525.4,716.9 526.8,718.1 528.2,719.4 529.6,720.8 531.0,722.1 532.5,723.4 533.9,724.7 535.3,726.1 536.7,727.4 538.2,728.7 539.6,730.1 541.0,731.2 542.5,732.2 543.9,733.2 545.4,734.3 546.8,735.3 548.2,736.2 549.5,737.2 551.3,738.1 553.0,739.0 554.6,739.8 556.1,740.5 557.5,741.1 559.5,742.0 561.2,742.7 562.4,743.1 562.4,801.4 561.2,799.6 559.5,797.0 557.5,793.7 556.1,791.5 554.6,789.0 553.0,786.4 551.3,783.6 549.5,780.8 548.2,779.0 546.8,777.0 545.4,775.0 543.9,773.0 542.5,770.9 541.0,768.9 539.6,766.9 538.2,765.3 536.7,763.5 535.3,761.8 533.9,760.1 532.5,758.4 531.0,756.7 529.6,755.0 528.2,753.4 526.8,751.7 525.4,750.0 523.9,748.4 522.5,746.7 521.1,745.1 519.7,743.5 518.3,741.8 516.8,740.2 515.4,738.6 514.0,737.0 512.6,735.4 511.1,733.8 509.7,732.2 508.3,730.8 506.9,729.3 505.5,727.9 504.0,726.5 502.6,725.0 501.2,723.6 499.8,722.1 498.4,720.7 496.9,719.3 495.5,717.8 494.1,716.3 492.7,714.9 491.2,713.4 489.8,712.0 488.4,710.5 487.0,709.1 485.6,707.6 484.1,706.2 482.7,704.8 481.3,703.3 479.9,701.9 478.2,700.4 476.6,698.8 474.9,697.3 473.2,695.7 471.6,694.3 469.9,692.8 468.2,691.4 466.5,690.0 464.8,688.7 463.1,687.3 461.5,686.1 460.0,684.9 457.9,683.4 456.1,682.0 454.3,680.8 452.5,679.6 450.7,678.4 449.0,677.3 447.3,676.2 445.4,675.2 443.3,674.2 441.1,673.2 438.8,672.3 436.6,671.5 434.4,670.6 432.2,669.7 430.1,668.9 427.9,668.2 425.7,667.6 423.5,667.1 421.3,666.6 419.1,666.3 416.9,666.0 414.8,665.7 412.6,665.6 410.3,665.4 408.0,665.4 405.8,665.3 403.4,665.3 400.7,665.4 398.7,665.5 396.6,665.6 394.4,665.8 392.1,666.0 389.8,666.2 387.6,666.4 385.4,666.6 383.2,666.9 381.0,667.2 378.8,667.5 376.6,667.9 374.4,668.2 372.2,668.6 370.0,669.1 367.9,669.5 365.7,670.0 363.5,670.5 361.3,671.0 359.1,671.5 356.9,672.0 354.7,672.6 352.5,673.1 350.3,673.7 348.1,674.2 345.9,674.8 343.7,675.4 341.4,675.9 339.2,676.5 337.1,677.1 335.0,677.6 332.6,678.0 330.4,678.4 328.1,678.8 325.9,679.2 323.6,679.5 321.6,680.0 319.6,680.5 317.6,680.9 315.6,681.4 313.5,682.0 311.4,682.5 309.3,683.0 307.1,683.6 304.9,684.1 302.6,684.7 300.4,685.3 298.2,685.8 296.0,686.4 293.8,687.0 291.6,687.5 289.5,688.1 287.3,688.7 285.1,689.2 282.9,689.8 280.7,690.3 278.5,690.9 276.3,691.4 274.1,692.0 271.9,692.5 269.7,693.0 267.5,693.5 265.3,694.0 263.2,694.4 261.0,694.9 258.8,695.3 256.6,695.7 254.4,696.1 252.3,696.6 250.1,696.9 247.9,697.3 245.7,697.6 243.6,697.9 241.5,698.1 239.4,698.3 237.2,698.5 235.0,698.6 232.5,698.8 230.5,698.9 228.3,699.0 226.1,699.1 223.7,699.2 221.4,699.3 219.2,699.4 217.0,699.5 215.0,699.5 212.6,699.6 210.3,699.6 208.2,699.6 206.2,699.6 204.2,699.6 202.1,699.6 200.1,699.6 198.2,699.6 196.4,699.6 194.5,699.6 192.4,699.6 190.0,699.6 188.2,699.6 186.3,699.6 184.3,699.6 182.3,699.6 180.1,699.5 178.0,699.5 175.9,699.5 173.8,699.5 171.8,699.5 169.6,699.7 167.5,699.9 165.5,700.0 163.4,700.2 161.3,700.3 159.3,700.5 157.2,700.6 155.0,700.8 153.0,700.9 151.0,701.1 149.0,701.2 146.9,701.4 144.8,701.5 142.7,701.6 140.7,701.8 138.7,701.9 136.7,702.0 134.5,702.3 132.4,702.7 130.4,703.1 128.3,703.4 126.3,703.8 124.2,704.2 122.1,704.5 120.0,704.9 117.7,705.3 115.2,705.7 112.6,706.1 110.0,706.6 107.6,707.0 105.3,707.4 103.5,707.7 102.1,707.8" fill="#1d9fbc" fill-opacity="0.58"/><polyline points="102.8,707.5 106.8,677.1 111.5,672.9 120.4,694.6 124.6,636.9 128.5,657.2 132.7,654.9 137.4,699.3 141.4,689.9 145.4,735.5 154.7,686.0 158.9,706.3 163.1,707.9 167.1,721.9 171.8,721.5 176.0,670.1 180.6,615.7 185.1,621.5 189.7,689.9 193.9,668.9 197.7,680.6 202.4,659.6 206.8,736.7 211.5,700.9 215.4,702.1 220.1,681.8 224.3,680.1 229.0,707.5 233.7,686.0 238.3,704.4 243.0,688.3 247.5,790.9 251.1,695.9 256.0,705.6 260.7,660.5 265.7,644.8 270.4,658.3 275.4,702.8 280.1,686.2 284.8,693.1 289.7,708.1 294.4,653.6 299.4,646.2 304.1,690.4 308.8,745.6 313.5,561.1 318.5,646.7 322.9,712.5 327.9,693.7 333.1,691.8 337.3,618.3 342.2,607.2 347.2,655.8 351.6,680.4 356.9,617.1 366.3,691.8 371.0,632.9 375.7,646.2 380.4,661.1 385.1,726.3 390.0,699.8 394.4,639.4 399.1,642.5 404.4,648.5 408.8,642.9 414.0,615.1 418.7,627.5 423.4,620.6 428.1,652.3 432.8,651.2 437.5,675.8 442.2,687.1 446.9,620.6 451.6,691.8 456.5,682.7 461.2,668.3 465.1,725.8 470.1,652.3 473.9,674.7 477.5,638.0 481.1,648.2 484.7,675.3 487.5,736.5 491.0,644.1 493.8,726.9 497.7,709.8 499.9,723.6 502.6,700.7 505.7,745.1 508.2,704.2 511.8,701.5 514.0,765.8 516.7,757.2 519.2,813.8 522.2,717.5 525.0,706.5 527.8,772.7 531.1,738.2 533.3,746.5 536.3,779.3 542.4,726.3 547.4,760.0 550.1,767.7 553.4,760.8 555.9,771.1 559.0,762.2 561.5,742.1" fill="none" stroke="#3fb0c9" stroke-opacity="0.9" stroke-width="1.7" stroke-linejoin="round"/><rect x="100.7" y="705.4" width="4.2" height="4.2" fill="#3aadc7" /><rect x="104.7" y="675.0" width="4.2" height="4.2" fill="#3aadc7" /><rect x="109.4" y="670.8" width="4.2" height="4.2" fill="#3aadc7" /><rect x="118.3" y="692.5" width="4.2" height="4.2" fill="#3aadc7" /><rect x="122.5" y="634.8" width="4.2" height="4.2" fill="#3aadc7" /><rect x="126.4" y="655.1" width="4.2" height="4.2" fill="#3aadc7" /><rect x="130.6" y="652.8" width="4.2" height="4.2" fill="#3aadc7" /><rect x="135.3" y="697.2" width="4.2" height="4.2" fill="#3aadc7" /><rect x="139.3" y="687.8" width="4.2" height="4.2" fill="#3aadc7" /><rect x="143.3" y="733.4" width="4.2" height="4.2" fill="#3aadc7" /><rect x="152.6" y="683.9" width="4.2" height="4.2" fill="#3aadc7" /><rect x="156.8" y="704.2" width="4.2" height="4.2" fill="#3aadc7" /><rect x="161.0" y="705.8" width="4.2" height="4.2" fill="#3aadc7" /><rect x="165.0" y="719.8" width="4.2" height="4.2" fill="#3aadc7" /><rect x="169.7" y="719.4" width="4.2" height="4.2" fill="#3aadc7" /><rect x="173.9" y="668.0" width="4.2" height="4.2" fill="#3aadc7" /><rect x="178.5" y="613.6" width="4.2" height="4.2" fill="#3aadc7" /><rect x="183.0" y="619.4" width="4.2" height="4.2" fill="#3aadc7" /><rect x="187.6" y="687.8" width="4.2" height="4.2" fill="#3aadc7" /><rect x="191.8" y="666.8" width="4.2" height="4.2" fill="#3aadc7" /><rect x="195.6" y="678.5" width="4.2" height="4.2" fill="#3aadc7" /><rect x="200.3" y="657.5" width="4.2" height="4.2" fill="#3aadc7" /><rect x="204.7" y="734.6" width="4.2" height="4.2" fill="#3aadc7" /><rect x="209.4" y="698.8" width="4.2" height="4.2" fill="#3aadc7" /><rect x="213.3" y="700.0" width="4.2" height="4.2" fill="#3aadc7" /><rect x="218.0" y="679.7" width="4.2" height="4.2" fill="#3aadc7" /><rect x="222.2" y="678.0" width="4.2" height="4.2" fill="#3aadc7" /><rect x="226.9" y="705.4" width="4.2" height="4.2" fill="#3aadc7" /><rect x="231.6" y="683.9" width="4.2" height="4.2" fill="#3aadc7" /><rect x="236.2" y="702.3" width="4.2" height="4.2" fill="#3aadc7" /><rect x="240.9" y="686.2" width="4.2" height="4.2" fill="#3aadc7" /><rect x="245.4" y="788.8" width="4.2" height="4.2" fill="#3aadc7" /><rect x="249.0" y="693.8" width="4.2" height="4.2" fill="#3aadc7" /><rect x="253.9" y="703.5" width="4.2" height="4.2" fill="#3aadc7" /><rect x="258.6" y="658.4" width="4.2" height="4.2" fill="#3aadc7" /><rect x="263.6" y="642.7" width="4.2" height="4.2" fill="#3aadc7" /><rect x="268.3" y="656.2" width="4.2" height="4.2" fill="#3aadc7" /><rect x="273.3" y="700.7" width="4.2" height="4.2" fill="#3aadc7" /><rect x="278.0" y="684.1" width="4.2" height="4.2" fill="#3aadc7" /><rect x="282.7" y="691.0" width="4.2" height="4.2" fill="#3aadc7" /><rect x="287.6" y="706.0" width="4.2" height="4.2" fill="#3aadc7" /><rect x="292.3" y="651.5" width="4.2" height="4.2" fill="#3aadc7" /><rect x="297.3" y="644.1" width="4.2" height="4.2" fill="#3aadc7" /><rect x="302.0" y="688.3" width="4.2" height="4.2" fill="#3aadc7" /><rect x="306.7" y="743.5" width="4.2" height="4.2" fill="#3aadc7" /><rect x="311.4" y="559.0" width="4.2" height="4.2" fill="#3aadc7" /><rect x="316.4" y="644.6" width="4.2" height="4.2" fill="#3aadc7" /><rect x="320.8" y="710.4" width="4.2" height="4.2" fill="#3aadc7" /><rect x="325.8" y="691.6" width="4.2" height="4.2" fill="#3aadc7" /><rect x="331.0" y="689.7" width="4.2" height="4.2" fill="#3aadc7" /><rect x="335.2" y="616.2" width="4.2" height="4.2" fill="#3aadc7" /><rect x="340.1" y="605.1" width="4.2" height="4.2" fill="#3aadc7" /><rect x="345.1" y="653.7" width="4.2" height="4.2" fill="#3aadc7" /><rect x="349.5" y="678.3" width="4.2" height="4.2" fill="#3aadc7" /><rect x="354.8" y="615.0" width="4.2" height="4.2" fill="#3aadc7" /><rect x="364.2" y="689.7" width="4.2" height="4.2" fill="#3aadc7" /><rect x="368.9" y="630.8" width="4.2" height="4.2" fill="#3aadc7" /><rect x="373.6" y="644.1" width="4.2" height="4.2" fill="#3aadc7" /><rect x="378.3" y="659.0" width="4.2" height="4.2" fill="#3aadc7" /><rect x="383.0" y="724.2" width="4.2" height="4.2" fill="#3aadc7" /><rect x="387.9" y="697.7" width="4.2" height="4.2" fill="#3aadc7" /><rect x="392.3" y="637.3" width="4.2" height="4.2" fill="#3aadc7" /><rect x="397.0" y="640.4" width="4.2" height="4.2" fill="#3aadc7" /><rect x="402.3" y="646.4" width="4.2" height="4.2" fill="#3aadc7" /><rect x="406.7" y="640.8" width="4.2" height="4.2" fill="#3aadc7" /><rect x="411.9" y="613.0" width="4.2" height="4.2" fill="#3aadc7" /><rect x="416.6" y="625.4" width="4.2" height="4.2" fill="#3aadc7" /><rect x="421.3" y="618.5" width="4.2" height="4.2" fill="#3aadc7" /><rect x="426.0" y="650.2" width="4.2" height="4.2" fill="#3aadc7" /><rect x="430.7" y="649.1" width="4.2" height="4.2" fill="#3aadc7" /><rect x="435.4" y="673.7" width="4.2" height="4.2" fill="#3aadc7" /><rect x="440.1" y="685.0" width="4.2" height="4.2" fill="#3aadc7" /><rect x="444.8" y="618.5" width="4.2" height="4.2" fill="#3aadc7" /><rect x="449.5" y="689.7" width="4.2" height="4.2" fill="#3aadc7" /><rect x="454.4" y="680.6" width="4.2" height="4.2" fill="#3aadc7" /><rect x="459.1" y="666.2" width="4.2" height="4.2" fill="#3aadc7" /><rect x="463.0" y="723.7" width="4.2" height="4.2" fill="#3aadc7" /><rect x="468.0" y="650.2" width="4.2" height="4.2" fill="#3aadc7" /><rect x="471.8" y="672.6" width="4.2" height="4.2" fill="#3aadc7" /><rect x="475.4" y="635.9" width="4.2" height="4.2" fill="#3aadc7" /><rect x="479.0" y="646.1" width="4.2" height="4.2" fill="#3aadc7" /><rect x="482.6" y="673.2" width="4.2" height="4.2" fill="#3aadc7" /><rect x="485.4" y="734.4" width="4.2" height="4.2" fill="#3aadc7" /><rect x="488.9" y="642.0" width="4.2" height="4.2" fill="#3aadc7" /><rect x="491.7" y="724.8" width="4.2" height="4.2" fill="#3aadc7" /><rect x="495.6" y="707.7" width="4.2" height="4.2" fill="#3aadc7" /><rect x="497.8" y="721.5" width="4.2" height="4.2" fill="#3aadc7" /><rect x="500.5" y="698.6" width="4.2" height="4.2" fill="#3aadc7" /><rect x="503.6" y="743.0" width="4.2" height="4.2" fill="#3aadc7" /><rect x="506.1" y="702.1" width="4.2" height="4.2" fill="#3aadc7" /><rect x="509.7" y="699.4" width="4.2" height="4.2" fill="#3aadc7" /><rect x="511.9" y="763.7" width="4.2" height="4.2" fill="#3aadc7" /><rect x="514.6" y="755.1" width="4.2" height="4.2" fill="#3aadc7" /><rect x="517.1" y="811.7" width="4.2" height="4.2" fill="#3aadc7" /><rect x="520.1" y="715.4" width="4.2" height="4.2" fill="#3aadc7" /><rect x="522.9" y="704.4" width="4.2" height="4.2" fill="#3aadc7" /><rect x="525.7" y="770.6" width="4.2" height="4.2" fill="#3aadc7" /><rect x="529.0" y="736.1" width="4.2" height="4.2" fill="#3aadc7" /><rect x="531.2" y="744.4" width="4.2" height="4.2" fill="#3aadc7" /><rect x="534.2" y="777.2" width="4.2" height="4.2" fill="#3aadc7" /><rect x="540.3" y="724.2" width="4.2" height="4.2" fill="#3aadc7" /><rect x="545.3" y="757.9" width="4.2" height="4.2" fill="#3aadc7" /><rect x="548.0" y="765.6" width="4.2" height="4.2" fill="#3aadc7" /><rect x="551.3" y="758.7" width="4.2" height="4.2" fill="#3aadc7" /><rect x="553.8" y="769.0" width="4.2" height="4.2" fill="#3aadc7" /><rect x="556.9" y="760.1" width="4.2" height="4.2" fill="#3aadc7" /><rect x="559.4" y="740.0" width="4.2" height="4.2" fill="#3aadc7" /><polyline points="102.1,685.5 103.5,685.6 105.3,685.6 107.6,685.8 110.0,685.9 112.6,686.0 115.2,686.1 117.7,686.2 120.0,686.3 122.1,686.4 124.2,686.5 126.3,686.5 128.3,686.6 130.4,686.7 132.4,686.8 134.5,686.8 136.7,686.9 138.7,687.0 140.7,687.0 142.7,687.1 144.8,687.1 146.9,687.2 149.0,687.3 151.0,687.3 153.0,687.4 155.0,687.4 157.2,687.4 159.3,687.5 161.3,687.5 163.4,687.6 165.5,687.6 167.5,687.6 169.6,687.7 171.8,687.7 173.8,687.7 175.9,687.8 178.0,687.8 180.1,687.8 182.3,687.8 184.3,687.8 186.3,687.9 188.2,687.9 190.0,687.9 192.4,687.9 194.5,687.9 196.4,688.0 198.2,688.0 200.1,688.0 202.1,688.0 204.2,688.0 206.2,688.0 208.2,688.0 210.3,688.0 212.6,688.0 215.0,688.0 217.0,688.0 219.2,687.9 221.4,687.8 223.7,687.8 226.1,687.7 228.3,687.6 230.5,687.5 232.5,687.4 235.0,687.2 237.2,687.1 239.4,686.9 241.5,686.7 243.6,686.5 245.7,686.2 247.9,685.9 250.1,685.5 252.3,685.2 254.4,684.7 256.6,684.3 258.8,683.9 261.0,683.5 263.2,683.0 265.3,682.6 267.5,682.1 269.7,681.6 271.9,681.1 274.1,680.6 276.3,680.0 278.5,679.5 280.7,678.9 282.9,678.4 285.1,677.8 287.3,677.2 289.5,676.6 291.6,676.1 293.8,675.5 296.0,674.9 298.2,674.3 300.4,673.7 302.6,673.1 304.9,672.5 307.1,671.9 309.3,671.4 311.4,670.8 313.5,670.3 315.6,669.7 317.6,669.2 319.6,668.7 321.6,668.2 323.6,667.7 325.9,667.1 328.1,666.6 330.4,666.1 332.6,665.5 335.0,664.9 337.1,664.3 339.2,663.7 341.4,663.1 343.7,662.5 345.9,661.8 348.1,661.2 350.3,660.6 352.5,660.0 354.7,659.4 356.9,658.8 359.1,658.3 361.3,657.7 363.5,657.2 365.7,656.6 367.9,656.1 370.0,655.6 372.2,655.1 374.4,654.7 376.6,654.3 378.8,653.9 381.0,653.5 383.2,653.2 385.4,652.9 387.6,652.6 389.8,652.3 392.1,652.1 394.4,651.9 396.6,651.7 398.7,651.5 400.7,651.4 403.4,651.3 405.8,651.2 408.0,651.2 410.3,651.3 412.6,651.4 414.8,651.5 416.9,651.7 419.1,652.0 421.3,652.3 423.5,652.7 425.7,653.2 427.9,653.8 430.1,654.5 432.2,655.3 434.4,656.1 436.6,657.0 438.8,657.9 441.1,658.8 443.3,659.8 445.4,660.8 447.3,661.9 449.0,662.9 450.7,664.1 452.5,665.3 454.3,666.5 456.1,667.8 457.9,669.2 460.0,670.8 461.5,672.0 463.1,673.2 464.8,674.6 466.5,676.0 468.2,677.4 469.9,678.8 471.6,680.2 473.2,681.7 474.9,683.2 476.6,684.7 478.2,686.2 479.9,687.8 481.3,689.2 482.7,690.6 484.1,692.0 485.6,693.4 487.0,694.8 488.4,696.3 489.8,697.7 491.2,699.1 492.7,700.6 494.1,702.0 495.5,703.4 496.9,704.8 498.4,706.3 499.8,707.7 501.2,709.1 502.6,710.5 504.0,711.9 505.5,713.4 506.9,714.8 508.3,716.2 509.7,717.6 511.1,719.0 512.6,720.4 514.0,721.9 515.4,723.3 516.8,724.7 518.3,726.2 519.7,727.6 521.1,729.1 522.5,730.5 523.9,732.0 525.4,733.4 526.8,734.9 528.2,736.4 529.6,737.9 531.0,739.4 532.5,740.9 533.9,742.4 535.3,743.9 536.7,745.5 538.2,747.0 539.6,748.5 541.0,750.0 542.5,751.6 543.9,753.1 545.4,754.7 546.8,756.2 548.2,757.6 549.5,759.0 551.3,760.9 553.0,762.7 554.6,764.4 556.1,766.0 557.5,767.4 559.5,769.5 561.2,771.2 562.4,772.3" fill="none" stroke="#0b97b5" stroke-width="3.1" stroke-linejoin="round" stroke-linecap="round"/><path d="M84.4,15.5V206.92000000000002M84.4,16.5h-10M84.4,48.07h-10M84.4,79.64h-10M84.4,111.21000000000001h-10M84.4,142.78h-10M84.4,174.35h-10M84.4,205.92000000000002h-10" fill="none" stroke="#000" stroke-width="2"/><text transform="translate(62.8,16.5) rotate(-90)" font-size="18.5" text-anchor="middle" font-family="Liberation Sans, sans-serif">1.0</text><text transform="translate(62.8,79.64) rotate(-90)" font-size="18.5" text-anchor="middle" font-family="Liberation Sans, sans-serif">0.0</text><text transform="translate(62.8,142.78) rotate(-90)" font-size="18.5" text-anchor="middle" font-family="Liberation Sans, sans-serif">-1.0</text><text transform="translate(62.8,205.92000000000002) rotate(-90)" font-size="18.5" text-anchor="middle" font-family="Liberation Sans, sans-serif">-2.0</text><text transform="translate(29.6,114.5) rotate(-90)" font-size="25" text-anchor="middle" font-family="Liberation Sans, sans-serif">Temp. anomaly [°C]</text><path d="M580.2,16.3V205.3M580.2,17.3h10M580.2,54.7h10M580.2,92.1h10M580.2,129.5h10M580.2,166.9h10M580.2,204.3h10" fill="none" stroke="#000" stroke-width="2"/><text transform="translate(614.3,54.7) rotate(-90)" font-size="18.5" text-anchor="middle" font-family="Liberation Sans, sans-serif">-17</text><text transform="translate(614.3,129.5) rotate(-90)" font-size="18.5" text-anchor="middle" font-family="Liberation Sans, sans-serif">-19</text><text transform="translate(614.3,204.3) rotate(-90)" font-size="18.5" text-anchor="middle" font-family="Liberation Sans, sans-serif">-21</text><text transform="translate(654.3,111.2) rotate(-90)" font-size="28" text-anchor="middle" font-family="Liberation Sans, sans-serif"><tspan font-family="Liberation Serif, serif" font-size="29.5">δ</tspan><tspan font-size="20.5" dy="-14">18</tspan><tspan dy="14">O [‰]</tspan></text><text transform="translate(683.7,109.5) rotate(-90)" font-size="22.2" text-anchor="middle" font-family="Liberation Sans, sans-serif">Austfonna Ice Core</text><path d="M84.4,240.2V360.5M84.4,241.2h-10M84.4,264.86h-10M84.4,288.52h-10M84.4,312.18h-10M84.4,335.84h-10M84.4,359.5h-10" fill="none" stroke="#43b649" stroke-width="2"/><text transform="translate(62.8,264.86) rotate(-90)" font-size="18.5" text-anchor="middle" font-family="Liberation Sans, sans-serif">2</text><text transform="translate(62.8,312.18) rotate(-90)" font-size="18.5" text-anchor="middle" font-family="Liberation Sans, sans-serif">0</text><text transform="translate(62.8,359.5) rotate(-90)" font-size="18.5" text-anchor="middle" font-family="Liberation Sans, sans-serif">-2</text><text transform="translate(33.7,306) rotate(-90)" font-size="25" text-anchor="middle" font-family="Liberation Sans, sans-serif">NAO Index</text><path d="M84.4,396.7V551.5799999999999M84.4,397.7h-10M84.4,423.18h-10M84.4,448.65999999999997h-10M84.4,474.14h-10M84.4,499.62h-10M84.4,525.1h-10M84.4,550.5799999999999h-10" fill="none" stroke="#000" stroke-width="2"/><text transform="translate(62.8,397.7) rotate(-90)" font-size="18.5" text-anchor="middle" font-family="Liberation Sans, sans-serif">1.7</text><text transform="translate(62.8,448.65999999999997) rotate(-90)" font-size="18.5" text-anchor="middle" font-family="Liberation Sans, sans-serif">1.5</text><text transform="translate(62.8,499.62) rotate(-90)" font-size="18.5" text-anchor="middle" font-family="Liberation Sans, sans-serif">1.3</text><text transform="translate(62.8,550.5799999999999) rotate(-90)" font-size="18.5" text-anchor="middle" font-family="Liberation Sans, sans-serif">1.1</text><text transform="translate(28.8,473.5) rotate(-90)" font-size="28" text-anchor="middle" font-family="Liberation Sans, sans-serif">TOC [%]</text><path d="M580.2,401.9V556.3M580.2,402.9h10M580.2,428.29999999999995h10M580.2,453.7h10M580.2,479.09999999999997h10M580.2,504.5h10M580.2,529.9h10M580.2,555.3h10" fill="none" stroke="#e8489b" stroke-width="2"/><text transform="translate(613.2,402.9) rotate(-90)" font-size="18.5" text-anchor="middle" font-family="Liberation Sans, sans-serif">-260</text><text transform="translate(613.2,479.09999999999997) rotate(-90)" font-size="18.5" text-anchor="middle" font-family="Liberation Sans, sans-serif">-320</text><text transform="translate(613.2,555.3) rotate(-90)" font-size="18.5" text-anchor="middle" font-family="Liberation Sans, sans-serif">-380</text><text transform="translate(654.4,482.5) rotate(-90)" font-size="28" text-anchor="middle" font-family="Liberation Sans, sans-serif">Δ<tspan font-size="20.5" dx="-0.8" dy="-14">14</tspan><tspan dx="-0.8" dy="14">C [‰]</tspan></text><path d="M84.4,604.0V763.5M84.4,605h-10M84.4,684h-10M84.4,762.5h-10" fill="none" stroke="#1d9fbc" stroke-width="2"/><text transform="translate(63.5,605) rotate(-90)" font-size="18.5" text-anchor="middle" font-family="Liberation Sans, sans-serif">-21.5</text><text transform="translate(63.5,684) rotate(-90)" font-size="18.5" text-anchor="middle" font-family="Liberation Sans, sans-serif">-22.0</text><text transform="translate(63.5,762.5) rotate(-90)" font-size="18.5" text-anchor="middle" font-family="Liberation Sans, sans-serif">-22.5</text><text transform="translate(28.8,686.6) rotate(-90)" font-size="28" text-anchor="middle" font-family="Liberation Sans, sans-serif"><tspan font-family="Liberation Serif, serif" font-size="29.5">δ</tspan><tspan font-size="20.5" dy="-14">13</tspan><tspan dy="14">C [‰]</tspan></text><path d="M83.5,834.4H555.74M84.50,834.4v10M143.28,834.4v10M202.06,834.4v10M260.84,834.4v10M319.62,834.4v10M378.40,834.4v10M437.18,834.4v10M495.96,834.4v10M554.74,834.4v10" fill="none" stroke="#000" stroke-width="2"/><text x="84.5" y="867.3" font-size="18.3" text-anchor="middle" font-family="Liberation Sans, sans-serif">1200</text><text x="143.3" y="867.3" font-size="18.3" text-anchor="middle" font-family="Liberation Sans, sans-serif">1300</text><text x="202.1" y="867.3" font-size="18.3" text-anchor="middle" font-family="Liberation Sans, sans-serif">1400</text><text x="260.8" y="867.3" font-size="18.3" text-anchor="middle" font-family="Liberation Sans, sans-serif">1500</text><text x="319.6" y="867.3" font-size="18.3" text-anchor="middle" font-family="Liberation Sans, sans-serif">1600</text><text x="378.4" y="867.3" font-size="18.3" text-anchor="middle" font-family="Liberation Sans, sans-serif">1700</text><text x="437.2" y="867.3" font-size="18.3" text-anchor="middle" font-family="Liberation Sans, sans-serif">1800</text><text x="496.0" y="867.3" font-size="18.3" text-anchor="middle" font-family="Liberation Sans, sans-serif">1900</text><text x="554.7" y="867.3" font-size="18.3" text-anchor="middle" font-family="Liberation Sans, sans-serif">2000</text><text x="331.7" y="898.6" font-size="28" text-anchor="middle" font-family="Liberation Sans, sans-serif">Year [AD]</text><text x="118" y="31.3" font-size="37.5" font-weight="bold" font-family="Liberation Sans, sans-serif">a</text><text x="550" y="31.3" font-size="37.5" font-weight="bold" font-family="Liberation Sans, sans-serif">b</text><text x="116.8" y="233" font-size="37.5" font-weight="bold" font-family="Liberation Sans, sans-serif">c</text><text x="116.5" y="410.5" font-size="37.5" font-weight="bold" font-family="Liberation Sans, sans-serif">d</text><text x="526.5" y="408.8" font-size="37.5" font-weight="bold" font-family="Liberation Sans, sans-serif">e</text><text x="119.4" y="617.4" font-size="37.5" font-weight="bold" font-family="Liberation Sans, sans-serif">f</text></svg>
</body></html>
